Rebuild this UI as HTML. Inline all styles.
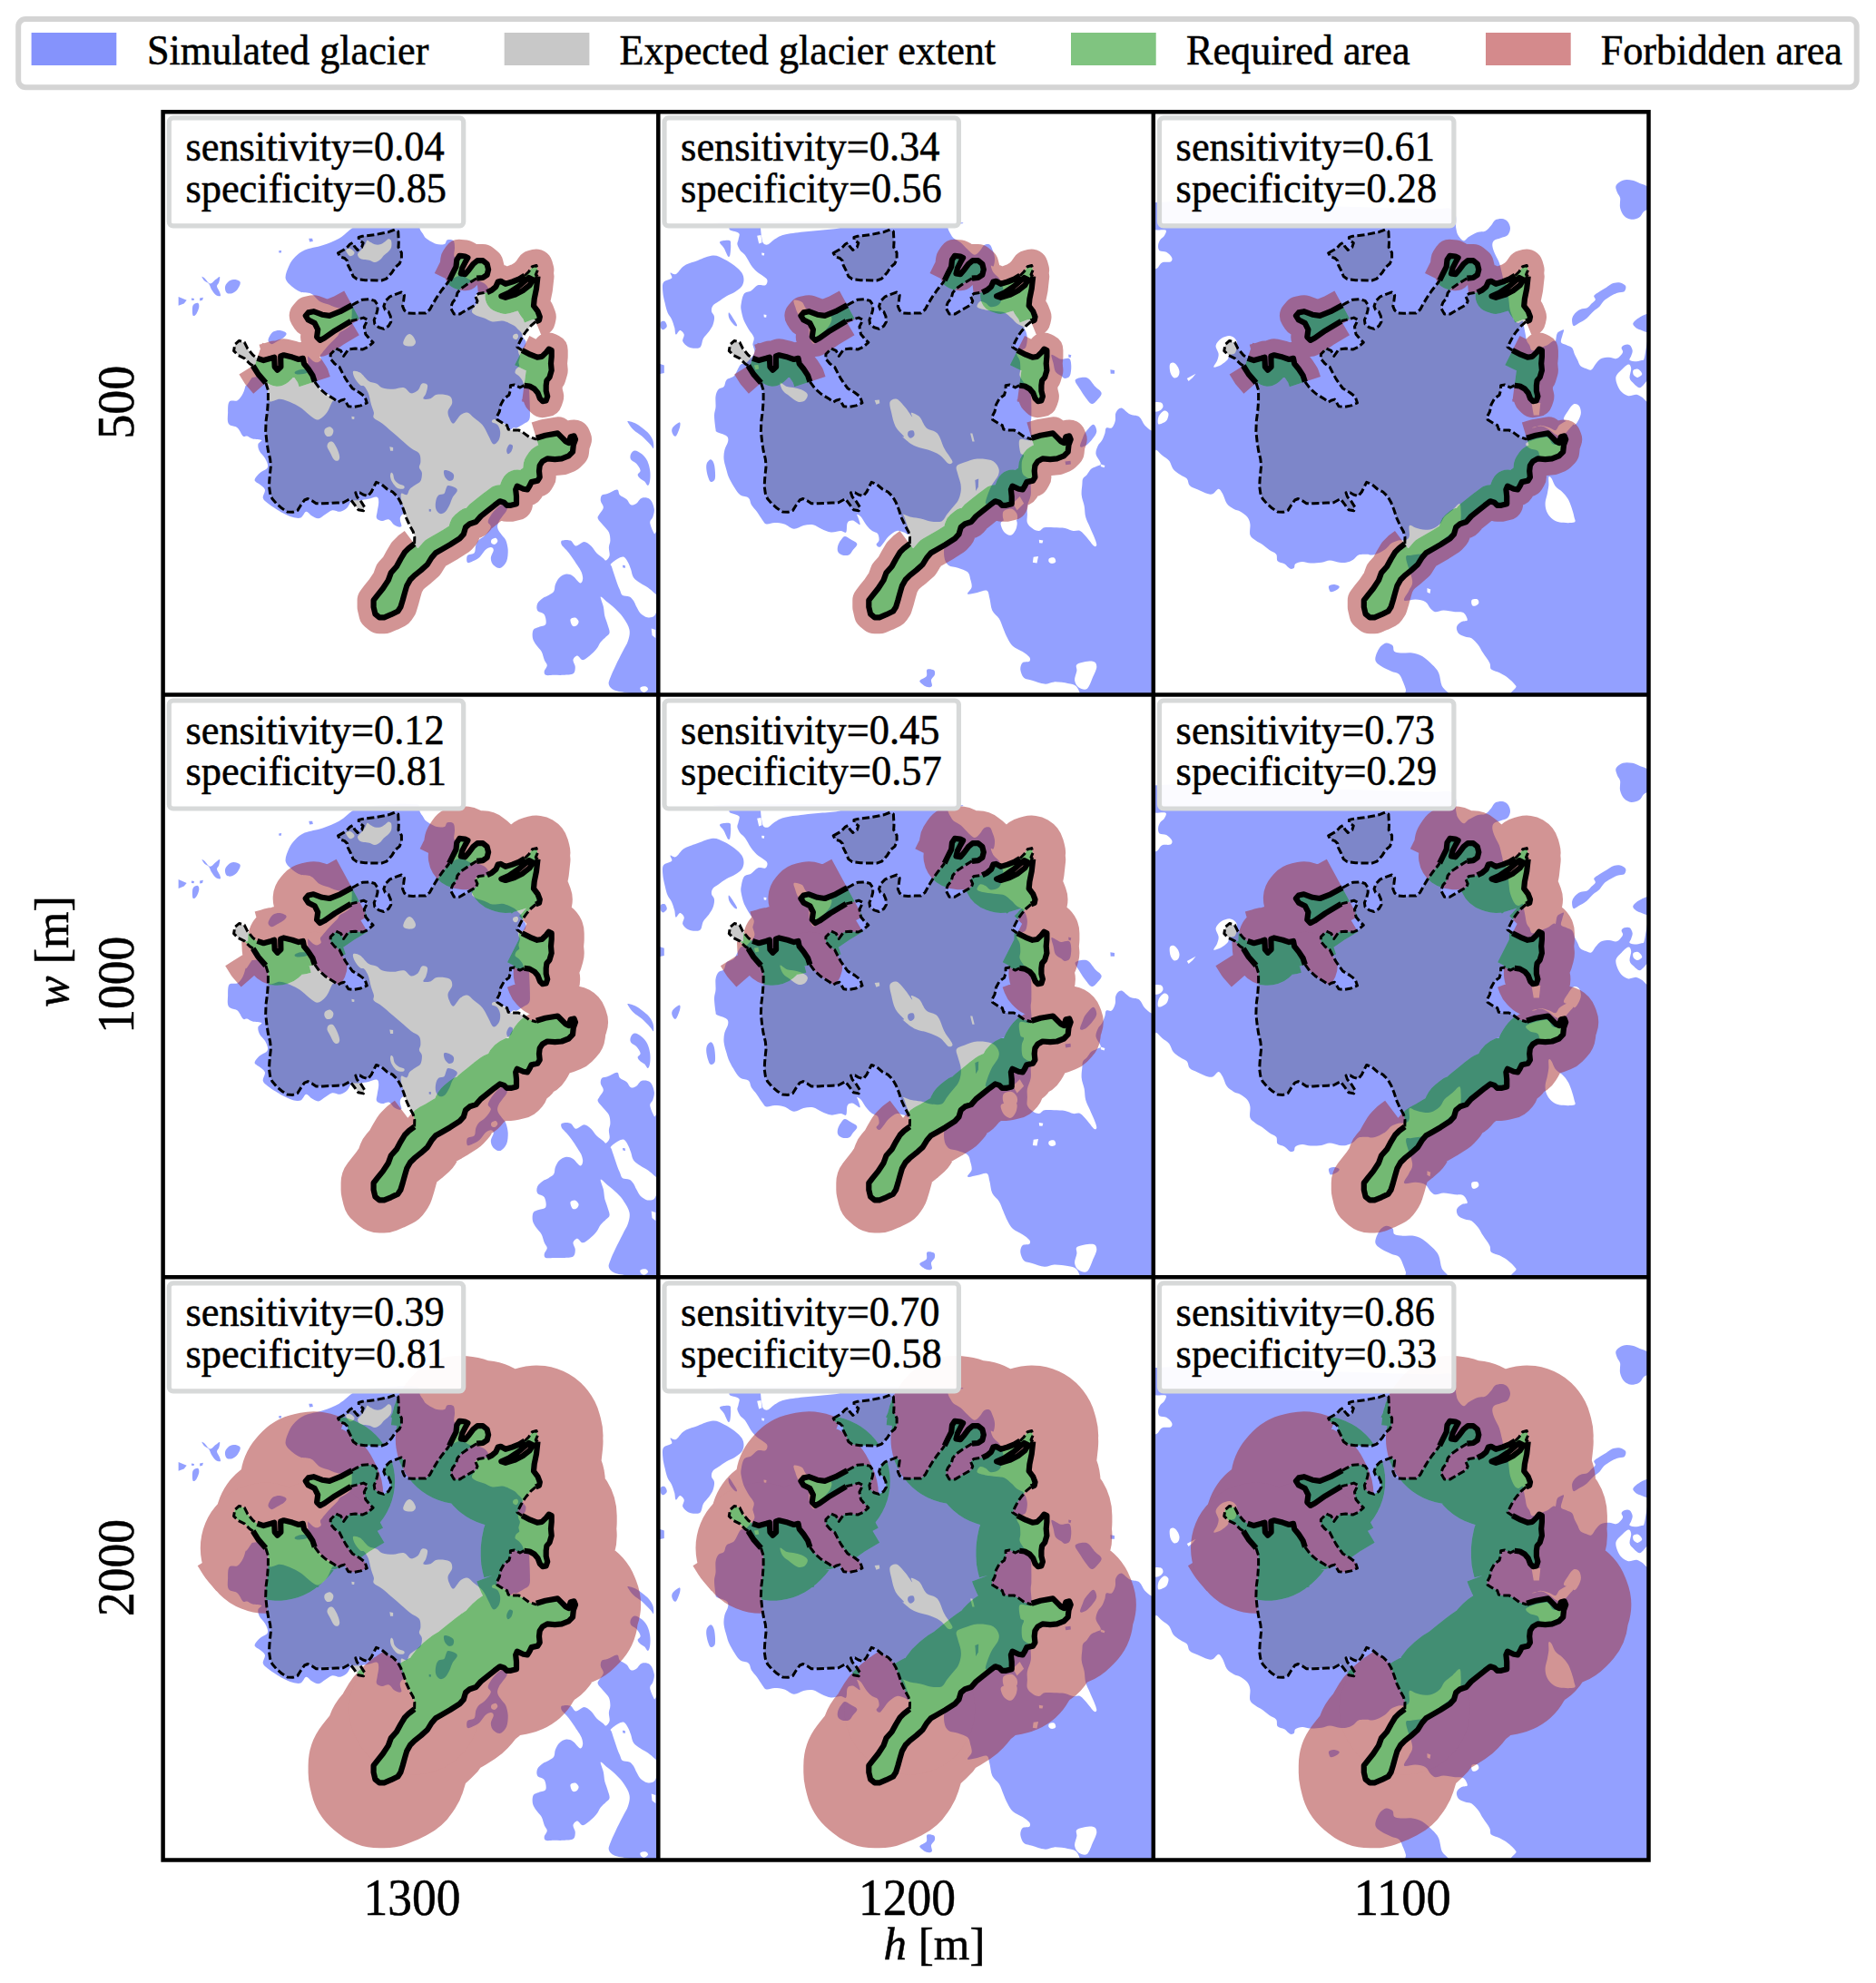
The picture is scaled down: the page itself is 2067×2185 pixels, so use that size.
<!DOCTYPE html>
<html><head><meta charset="utf-8"><title>figure</title>
<style>
html,body{margin:0;padding:0;background:#fff}
body{width:2067px;height:2185px;overflow:hidden;font-family:"Liberation Serif",serif}
svg{display:block}
text{font-family:"Liberation Serif",serif;fill:#000;stroke:#000;stroke-width:0.5px}
</style></head><body>
<svg xmlns="http://www.w3.org/2000/svg" width="2067" height="2185" viewBox="0 0 2067 2185">
<defs>
<path id="G" fill-rule="evenodd" clip-rule="evenodd" d="M113.2,298.5L105,289.1 99.1,279.7 95.6,277.4 89.7,271.5 82.7,268 78,263.3 79.2,256.3 83.9,252.1 89.7,253.9 93.2,260.9 99.1,268 103.8,271.5 110.8,273.8 119,271.5 122.6,270.3 123.1,280.9 126.1,284.4 129.8,280.9 129.6,269.2 133.1,268 142.5,270.3 149.5,272.7 154.2,271.5 155.4,277.4 160.1,283.2 164.8,290.3 167.1,297.3 172.5,304.7 179.3,310.7 189.1,316.8 192.9,319.8 195.9,317.9 199.7,316.8 204.3,324.4 210.3,325.1 217.9,323.6 224.7,320.6 222.4,313.8 216.4,309.2 208.8,304.7 204.3,298.6 201.2,294.1 197.5,287.3 194.4,281.2 189.1,277.5 184.6,272.2 184.6,266.9 190.7,260.8 195.9,263.1 199,269.1 204.3,261.6 211.8,260.8 220.2,261.6 225.4,259.3 231.5,254 227,249.5 223.2,244.9 221.7,236.6 225.4,229.1 220.9,226.8 212.6,229.1 207,230.5 189.4,241 177.7,249.2 173,251.6 169.5,248 170.6,239.8 167.1,232.8 160.1,229.3 157.1,224.6 160.1,221.1 165.9,219.9 175.3,223.4 183.5,224.6 195.3,219.9 208.2,212.9 212.9,210.3 219.7,206.9 227.3,206.5 233.3,208.1 236.4,212.6 236.4,217.9 234.9,223.9 232.6,229.2 233.3,233.8 237.9,237.5 243.2,239.1 248.5,236 251.1,231.5 250.7,225.4 248.5,220.2 244.7,217.9 243.2,214.1 245.4,208.1 250,203.5 257.5,200.5 262.8,198.6 265.9,202 265.1,208.1 264,214.1 265.9,218.6 269.6,221.7 275.7,222 282.5,221.7 289.3,221.7 293.9,217.9 297.6,211.1 302.2,203.5 307.5,195.9 313.5,188.4 315.4,185.7 319.1,178.1 322.9,170.6 323.7,163 326.7,158.5 332.8,159.2 335.8,160.7 332.8,166 329.7,172.1 328.2,178.1 332.8,178.9 337.3,173.6 341.8,167.5 346.4,163.8 352.4,163.8 357,167.5 358.5,173.6 357,179.6 352.4,182.7 345.6,183.4 335.8,189.5 328.2,194.8 324.4,199.3 322.9,205.4 319.1,209.9 316.9,215.9 320.7,222.8 326.7,222.8 335.8,217.5 344.9,212.2 346.4,208.4 344.1,203.1 347.9,200.1 353.9,199.3 357,198.9 362.3,196.3 366.8,192.5 369.1,187.2 372.1,186.5 377.4,189.5 384.9,187.2 392.5,184.2 398.6,180.4 403.1,175.9 406.9,170.4 411.4,169.2 412.8,174.3 410.7,179.3 412.9,181.2 411.4,194.8 409.1,206.1 408.4,213.7 412.9,219.7 415.2,225.8 414.4,229.6 410.7,231.1 405.4,235.6 400.2,241.7 396.4,247 393.3,253 390.3,259.1 395.6,262.8 404.7,267.4 412.3,270.4 417.5,269.6 422.1,265.1 425.1,261.3 428.1,262.8 428.1,269.6 427.4,277.2 428.1,284.8 425.9,292.3 422.8,296.1 422.1,301.4 422.1,307.5 423.6,313.5 422.1,318.1 418.3,318.8 415.3,315.8 413,309.7 409.2,305.2 403.9,302.2 397.9,301.4 393.3,303.7 387.3,300.7 382.8,301.4 382.8,306.7 381.2,312 375.9,315.8 372.2,322.6 370.7,330.2 367.6,336.2 368.4,339.2 374.4,343 379,345.3 380.5,349.8 384.3,350.6 391.8,350.6 397.1,353.6 403.2,358.1 410.7,360.4 411.3,359.4 421.2,356.4 434.8,354.1 439.3,358.6 443.9,363.2 446.9,364.7 449.1,357.9 452.9,357.1 454.4,360.9 452.2,367 451.4,374.5 446.9,379.1 439.3,382.1 431.8,382.8 423.4,382.1 418.1,385.1 415.1,389.6 414.4,395.7 415.1,402.5 412.8,406.3 406,407.8 403.8,412.3 401.5,416.1 397,415.4 390.2,412.3 388.6,416.1 389.4,423.7 389.4,432 383.3,433.5 378.8,433.5 375.8,430.5 371.2,429 365.2,433.5 357.6,439.6 350.1,445.6 344.8,451.7 338,453.9 333.4,457.7 331.2,465.3 326.9,470 316.3,476.8 307.2,482.1 300.4,485.9 295.9,491.2 291.3,498.7 284.5,504.8 277,510.8 272.4,515.4 268.6,522.2 266.4,529.7 264.1,538.1 261.8,545.6 258.8,550.2 251.2,553.9 243.7,557 238.4,557 233.8,553.2 232,545.6 232,538.1 236.1,532.8 242.2,525.2 248.2,516.1 251.2,507.8 257.3,501 261.8,492.7 266.4,485.1 270.9,480.6 277,476 277.2,468.6 275.7,462.6 271.9,455.8 268.1,447.5 265.1,438.4 262.1,430.8 258.3,424 253,418.7 247,415.7 240.9,410.4 234.9,408.1 233.3,411.2 229.6,418.7 225.8,423.3 220.5,421.7 216.7,419.5 212.2,419.5 213.7,424 218.2,429.3 222,435.4 220.9,439.5 215.2,438.4 210.7,432.3 206.1,426.3 198.6,430.4 191.7,430.8 176.3,431.5 168.7,431.5 164.2,428.5 159.6,426.2 155.9,427.7 152.1,433 148.3,439.1 143,441 137,440.6 130.9,436.8 124.9,431.5 120.3,426.2 118,420.2 116.9,412.6 117.3,405 118,397.5 118.8,389.9 118,382.3 115.8,373.3 114.3,363.4 113.1,352.1 113.5,340.7 115,329.4 115.8,318 115.8,306.7 113.2,298.5ZM403.1,182.7L392.5,191.7 381.2,199.3 372.8,203.1 377.4,204.6 387.2,201.6 396.3,197 403.9,191 407.6,184.9ZM192.9,155.5L201.6,150.6 206.1,145.7 209.1,144.1 211,148.3 214.4,152.1 219,149.1 220.5,144.5 215.9,141.1 215.6,138.1 219.7,137 233.3,135.4 248.5,132.4 255.3,129.8 259.1,131.7 259.7,143.8 259.4,149.1 262.8,155.1 262.8,161.9 260.6,167.2 256,171 252.3,177 246.2,183.8 240.9,185.7 222.8,185.4 213.7,184.2 209.5,181.2 206.9,174.8 203.8,168.7 203.1,164.2 200.1,161.2 195.1,159.6Z"/>
<path id="Ms" fill="none" stroke-linejoin="round" stroke-linecap="butt" d="M113.2,298.5L105,289.1 99.1,279.7M103.8,271.5L110.8,273.8 119,271.5 122.6,270.3 123.1,280.9 126.1,284.4 129.8,280.9 129.6,269.2 133.1,268 142.5,270.3 149.5,272.7 154.2,271.5 155.4,277.4 160.1,283.2 164.8,290.3 167.1,297.3M207,230.5L189.4,241 177.7,249.2 173,251.6 169.5,248 170.6,239.8 167.1,232.8 160.1,229.3 157.1,224.6 160.1,221.1 165.9,219.9 175.3,223.4 183.5,224.6 195.3,219.9 208.2,212.9M315.4,185.7L319.1,178.1 322.9,170.6 323.7,163 326.7,158.5 332.8,159.2 335.8,160.7 332.8,166 329.7,172.1 328.2,178.1 332.8,178.9 337.3,173.6 341.8,167.5 346.4,163.8 352.4,163.8 357,167.5 358.5,173.6 357,179.6 352.4,182.7 345.6,183.4M357,198.9L362.3,196.3 366.8,192.5 369.1,187.2 372.1,186.5 377.4,189.5 384.9,187.2 392.5,184.2 398.6,180.4 403.1,175.9 406.9,170.4 411.4,169.2 412.8,174.3 410.7,179.3 412.9,181.2 411.4,194.8 409.1,206.1 408.4,213.7 412.9,219.7 415.2,225.8 414.4,229.6 410.7,231.1M395.6,262.8L404.7,267.4 412.3,270.4 417.5,269.6 422.1,265.1 425.1,261.3 428.1,262.8 428.1,269.6 427.4,277.2 428.1,284.8 425.9,292.3 422.8,296.1 422.1,301.4 422.1,307.5 423.6,313.5 422.1,318.1 418.3,318.8 415.3,315.8 413,309.7 409.2,305.2 403.9,302.2 397.9,301.4M411.3,359.4L421.2,356.4 434.8,354.1 439.3,358.6 443.9,363.2 446.9,364.7 449.1,357.9 452.9,357.1 454.4,360.9 452.2,367 451.4,374.5 446.9,379.1 439.3,382.1 431.8,382.8 423.4,382.1 418.1,385.1 415.1,389.6 414.4,395.7 415.1,402.5 412.8,406.3 406,407.8 403.8,412.3 401.5,416.1 397,415.4 390.2,412.3 388.6,416.1 389.4,423.7 389.4,432 383.3,433.5 378.8,433.5 375.8,430.5 371.2,429 365.2,433.5 357.6,439.6 350.1,445.6 344.8,451.7 338,453.9 333.4,457.7 331.2,465.3 326.9,470 316.3,476.8 307.2,482.1 300.4,485.9 295.9,491.2 291.3,498.7 284.5,504.8 277,510.8 272.4,515.4 268.6,522.2 266.4,529.7 264.1,538.1 261.8,545.6 258.8,550.2 251.2,553.9 243.7,557 238.4,557 233.8,553.2 232,545.6 232,538.1 236.1,532.8 242.2,525.2 248.2,516.1 251.2,507.8 257.3,501 261.8,492.7 266.4,485.1 270.9,480.6 277,476M403.1,182.7L392.5,191.7 381.2,199.3 372.8,203.1 377.4,204.6 387.2,201.6 396.3,197 403.9,191 407.6,184.9Z"/>
<path id="Mv" fill="none" stroke-linecap="round" d=""/>
<path id="pr500" fill="none" stroke-linecap="round" d=""/>
<path id="pg500" fill="none" stroke-linecap="round" d=""/>
<path id="pr1000" fill="none" stroke-linecap="round" d="M167.1,297.3h0"/>
<path id="pg1000" fill="none" stroke-linecap="round" d=""/>
<path id="pr2000" fill="none" stroke-linecap="round" d="M113.2,298.5h0M167.1,297.3h0M277,476h0"/>
<path id="pg2000" fill="none" stroke-linecap="round" d="M183.5,224.6h0"/>
<path id="Ml" fill="none" stroke="#000" stroke-width="6.2" stroke-linejoin="round" d="M113.2,298.5L105,289.1 99.1,279.7M103.8,271.5L110.8,273.8 119,271.5 122.6,270.3 123.1,280.9 126.1,284.4 129.8,280.9 129.6,269.2 133.1,268 142.5,270.3 149.5,272.7 154.2,271.5 155.4,277.4 160.1,283.2 164.8,290.3 167.1,297.3M207,230.5L189.4,241 177.7,249.2 173,251.6 169.5,248 170.6,239.8 167.1,232.8 160.1,229.3 157.1,224.6 160.1,221.1 165.9,219.9 175.3,223.4 183.5,224.6 195.3,219.9 208.2,212.9M315.4,185.7L319.1,178.1 322.9,170.6 323.7,163 326.7,158.5 332.8,159.2 335.8,160.7 332.8,166 329.7,172.1 328.2,178.1 332.8,178.9 337.3,173.6 341.8,167.5 346.4,163.8 352.4,163.8 357,167.5 358.5,173.6 357,179.6 352.4,182.7 345.6,183.4M357,198.9L362.3,196.3 366.8,192.5 369.1,187.2 372.1,186.5 377.4,189.5 384.9,187.2 392.5,184.2 398.6,180.4M412.9,181.2L411.4,194.8 409.1,206.1 408.4,213.7 412.9,219.7 415.2,225.8 414.4,229.6 410.7,231.1M395.6,262.8L404.7,267.4 412.3,270.4 417.5,269.6 422.1,265.1 425.1,261.3 428.1,262.8 428.1,269.6 427.4,277.2 428.1,284.8 425.9,292.3 422.8,296.1 422.1,301.4 422.1,307.5 423.6,313.5 422.1,318.1 418.3,318.8 415.3,315.8 413,309.7 409.2,305.2 403.9,302.2 397.9,301.4M411.3,359.4L421.2,356.4 434.8,354.1 439.3,358.6 443.9,363.2 446.9,364.7 449.1,357.9 452.9,357.1 454.4,360.9 452.2,367 451.4,374.5 446.9,379.1 439.3,382.1 431.8,382.8 423.4,382.1 418.1,385.1 415.1,389.6 414.4,395.7 415.1,402.5 412.8,406.3 406,407.8 403.8,412.3 401.5,416.1 397,415.4 390.2,412.3 388.6,416.1 389.4,423.7 389.4,432 383.3,433.5 378.8,433.5 375.8,430.5 371.2,429 365.2,433.5 357.6,439.6 350.1,445.6 344.8,451.7 338,453.9 333.4,457.7 331.2,465.3 326.9,470 316.3,476.8 307.2,482.1 300.4,485.9 295.9,491.2 291.3,498.7 284.5,504.8 277,510.8 272.4,515.4 268.6,522.2 266.4,529.7 264.1,538.1 261.8,545.6 258.8,550.2 251.2,553.9 243.7,557 238.4,557 233.8,553.2 232,545.6 232,538.1 236.1,532.8 242.2,525.2 248.2,516.1 251.2,507.8 257.3,501 261.8,492.7 266.4,485.1 270.9,480.6 277,476M403.1,182.7L392.5,191.7 381.2,199.3 372.8,203.1 377.4,204.6 387.2,201.6 396.3,197 403.9,191 407.6,184.9Z"/>
<path id="Md" fill="none" stroke="#000" stroke-width="3" stroke-dasharray="8.2 3.4" stroke-linejoin="round" d="M99.1,279.7L95.6,277.4 89.7,271.5 82.7,268 78,263.3 79.2,256.3 83.9,252.1 89.7,253.9 93.2,260.9 99.1,268 103.8,271.5M167.1,297.3L172.5,304.7 179.3,310.7 189.1,316.8 192.9,319.8 195.9,317.9 199.7,316.8 204.3,324.4 210.3,325.1 217.9,323.6 224.7,320.6 222.4,313.8 216.4,309.2 208.8,304.7 204.3,298.6 201.2,294.1 197.5,287.3 194.4,281.2 189.1,277.5 184.6,272.2 184.6,266.9 190.7,260.8 195.9,263.1 199,269.1 204.3,261.6 211.8,260.8 220.2,261.6 225.4,259.3 231.5,254 227,249.5 223.2,244.9 221.7,236.6 225.4,229.1 220.9,226.8 212.6,229.1 207,230.5M208.2,212.9L212.9,210.3 219.7,206.9 227.3,206.5 233.3,208.1 236.4,212.6 236.4,217.9 234.9,223.9 232.6,229.2 233.3,233.8 237.9,237.5 243.2,239.1 248.5,236 251.1,231.5 250.7,225.4 248.5,220.2 244.7,217.9 243.2,214.1 245.4,208.1 250,203.5 257.5,200.5 262.8,198.6 265.9,202 265.1,208.1 264,214.1 265.9,218.6 269.6,221.7 275.7,222 282.5,221.7 289.3,221.7 293.9,217.9 297.6,211.1 302.2,203.5 307.5,195.9 313.5,188.4 315.4,185.7M345.6,183.4L335.8,189.5 328.2,194.8 324.4,199.3 322.9,205.4 319.1,209.9 316.9,215.9 320.7,222.8 326.7,222.8 335.8,217.5 344.9,212.2 346.4,208.4 344.1,203.1 347.9,200.1 353.9,199.3 357,198.9M398.6,180.4L403.1,175.9 406.9,170.4 411.4,169.2 412.8,174.3 410.7,179.3 412.9,181.2M410.7,231.1L405.4,235.6 400.2,241.7 396.4,247 393.3,253 390.3,259.1 395.6,262.8M397.9,301.4L393.3,303.7 387.3,300.7 382.8,301.4 382.8,306.7 381.2,312 375.9,315.8 372.2,322.6 370.7,330.2 367.6,336.2 368.4,339.2 374.4,343 379,345.3 380.5,349.8 384.3,350.6 391.8,350.6 397.1,353.6 403.2,358.1 410.7,360.4 411.3,359.4M277,476L277.2,468.6 275.7,462.6 271.9,455.8 268.1,447.5 265.1,438.4 262.1,430.8 258.3,424 253,418.7 247,415.7 240.9,410.4 234.9,408.1 233.3,411.2 229.6,418.7 225.8,423.3 220.5,421.7 216.7,419.5 212.2,419.5 213.7,424 218.2,429.3 222,435.4 220.9,439.5 215.2,438.4 210.7,432.3 206.1,426.3 198.6,430.4 191.7,430.8 176.3,431.5 168.7,431.5 164.2,428.5 159.6,426.2 155.9,427.7 152.1,433 148.3,439.1 143,441 137,440.6 130.9,436.8 124.9,431.5 120.3,426.2 118,420.2 116.9,412.6 117.3,405 118,397.5 118.8,389.9 118,382.3 115.8,373.3 114.3,363.4 113.1,352.1 113.5,340.7 115,329.4 115.8,318 115.8,306.7 113.2,298.5M192.9,155.5L201.6,150.6 206.1,145.7 209.1,144.1 211,148.3 214.4,152.1 219,149.1 220.5,144.5 215.9,141.1 215.6,138.1 219.7,137 233.3,135.4 248.5,132.4 255.3,129.8 259.1,131.7 259.7,143.8 259.4,149.1 262.8,155.1 262.8,161.9 260.6,167.2 256,171 252.3,177 246.2,183.8 240.9,185.7 222.8,185.4 213.7,184.2 209.5,181.2 206.9,174.8 203.8,168.7 203.1,164.2 200.1,161.2 195.1,159.6Z"/>
<clipPath id="cin"><path clip-rule="evenodd" d="M113.2,298.5L105,289.1 99.1,279.7 95.6,277.4 89.7,271.5 82.7,268 78,263.3 79.2,256.3 83.9,252.1 89.7,253.9 93.2,260.9 99.1,268 103.8,271.5 110.8,273.8 119,271.5 122.6,270.3 123.1,280.9 126.1,284.4 129.8,280.9 129.6,269.2 133.1,268 142.5,270.3 149.5,272.7 154.2,271.5 155.4,277.4 160.1,283.2 164.8,290.3 167.1,297.3 172.5,304.7 179.3,310.7 189.1,316.8 192.9,319.8 195.9,317.9 199.7,316.8 204.3,324.4 210.3,325.1 217.9,323.6 224.7,320.6 222.4,313.8 216.4,309.2 208.8,304.7 204.3,298.6 201.2,294.1 197.5,287.3 194.4,281.2 189.1,277.5 184.6,272.2 184.6,266.9 190.7,260.8 195.9,263.1 199,269.1 204.3,261.6 211.8,260.8 220.2,261.6 225.4,259.3 231.5,254 227,249.5 223.2,244.9 221.7,236.6 225.4,229.1 220.9,226.8 212.6,229.1 207,230.5 189.4,241 177.7,249.2 173,251.6 169.5,248 170.6,239.8 167.1,232.8 160.1,229.3 157.1,224.6 160.1,221.1 165.9,219.9 175.3,223.4 183.5,224.6 195.3,219.9 208.2,212.9 212.9,210.3 219.7,206.9 227.3,206.5 233.3,208.1 236.4,212.6 236.4,217.9 234.9,223.9 232.6,229.2 233.3,233.8 237.9,237.5 243.2,239.1 248.5,236 251.1,231.5 250.7,225.4 248.5,220.2 244.7,217.9 243.2,214.1 245.4,208.1 250,203.5 257.5,200.5 262.8,198.6 265.9,202 265.1,208.1 264,214.1 265.9,218.6 269.6,221.7 275.7,222 282.5,221.7 289.3,221.7 293.9,217.9 297.6,211.1 302.2,203.5 307.5,195.9 313.5,188.4 315.4,185.7 319.1,178.1 322.9,170.6 323.7,163 326.7,158.5 332.8,159.2 335.8,160.7 332.8,166 329.7,172.1 328.2,178.1 332.8,178.9 337.3,173.6 341.8,167.5 346.4,163.8 352.4,163.8 357,167.5 358.5,173.6 357,179.6 352.4,182.7 345.6,183.4 335.8,189.5 328.2,194.8 324.4,199.3 322.9,205.4 319.1,209.9 316.9,215.9 320.7,222.8 326.7,222.8 335.8,217.5 344.9,212.2 346.4,208.4 344.1,203.1 347.9,200.1 353.9,199.3 357,198.9 362.3,196.3 366.8,192.5 369.1,187.2 372.1,186.5 377.4,189.5 384.9,187.2 392.5,184.2 398.6,180.4 403.1,175.9 406.9,170.4 411.4,169.2 412.8,174.3 410.7,179.3 412.9,181.2 411.4,194.8 409.1,206.1 408.4,213.7 412.9,219.7 415.2,225.8 414.4,229.6 410.7,231.1 405.4,235.6 400.2,241.7 396.4,247 393.3,253 390.3,259.1 395.6,262.8 404.7,267.4 412.3,270.4 417.5,269.6 422.1,265.1 425.1,261.3 428.1,262.8 428.1,269.6 427.4,277.2 428.1,284.8 425.9,292.3 422.8,296.1 422.1,301.4 422.1,307.5 423.6,313.5 422.1,318.1 418.3,318.8 415.3,315.8 413,309.7 409.2,305.2 403.9,302.2 397.9,301.4 393.3,303.7 387.3,300.7 382.8,301.4 382.8,306.7 381.2,312 375.9,315.8 372.2,322.6 370.7,330.2 367.6,336.2 368.4,339.2 374.4,343 379,345.3 380.5,349.8 384.3,350.6 391.8,350.6 397.1,353.6 403.2,358.1 410.7,360.4 411.3,359.4 421.2,356.4 434.8,354.1 439.3,358.6 443.9,363.2 446.9,364.7 449.1,357.9 452.9,357.1 454.4,360.9 452.2,367 451.4,374.5 446.9,379.1 439.3,382.1 431.8,382.8 423.4,382.1 418.1,385.1 415.1,389.6 414.4,395.7 415.1,402.5 412.8,406.3 406,407.8 403.8,412.3 401.5,416.1 397,415.4 390.2,412.3 388.6,416.1 389.4,423.7 389.4,432 383.3,433.5 378.8,433.5 375.8,430.5 371.2,429 365.2,433.5 357.6,439.6 350.1,445.6 344.8,451.7 338,453.9 333.4,457.7 331.2,465.3 326.9,470 316.3,476.8 307.2,482.1 300.4,485.9 295.9,491.2 291.3,498.7 284.5,504.8 277,510.8 272.4,515.4 268.6,522.2 266.4,529.7 264.1,538.1 261.8,545.6 258.8,550.2 251.2,553.9 243.7,557 238.4,557 233.8,553.2 232,545.6 232,538.1 236.1,532.8 242.2,525.2 248.2,516.1 251.2,507.8 257.3,501 261.8,492.7 266.4,485.1 270.9,480.6 277,476 277.2,468.6 275.7,462.6 271.9,455.8 268.1,447.5 265.1,438.4 262.1,430.8 258.3,424 253,418.7 247,415.7 240.9,410.4 234.9,408.1 233.3,411.2 229.6,418.7 225.8,423.3 220.5,421.7 216.7,419.5 212.2,419.5 213.7,424 218.2,429.3 222,435.4 220.9,439.5 215.2,438.4 210.7,432.3 206.1,426.3 198.6,430.4 191.7,430.8 176.3,431.5 168.7,431.5 164.2,428.5 159.6,426.2 155.9,427.7 152.1,433 148.3,439.1 143,441 137,440.6 130.9,436.8 124.9,431.5 120.3,426.2 118,420.2 116.9,412.6 117.3,405 118,397.5 118.8,389.9 118,382.3 115.8,373.3 114.3,363.4 113.1,352.1 113.5,340.7 115,329.4 115.8,318 115.8,306.7 113.2,298.5ZM403.1,182.7L392.5,191.7 381.2,199.3 372.8,203.1 377.4,204.6 387.2,201.6 396.3,197 403.9,191 407.6,184.9ZM192.9,155.5L201.6,150.6 206.1,145.7 209.1,144.1 211,148.3 214.4,152.1 219,149.1 220.5,144.5 215.9,141.1 215.6,138.1 219.7,137 233.3,135.4 248.5,132.4 255.3,129.8 259.1,131.7 259.7,143.8 259.4,149.1 262.8,155.1 262.8,161.9 260.6,167.2 256,171 252.3,177 246.2,183.8 240.9,185.7 222.8,185.4 213.7,184.2 209.5,181.2 206.9,174.8 203.8,168.7 203.1,164.2 200.1,161.2 195.1,159.6Z"/></clipPath>
<clipPath id="cout"><path clip-rule="evenodd" d="M-5,-5H550.6V647H-5ZM113.2,298.5L105,289.1 99.1,279.7 95.6,277.4 89.7,271.5 82.7,268 78,263.3 79.2,256.3 83.9,252.1 89.7,253.9 93.2,260.9 99.1,268 103.8,271.5 110.8,273.8 119,271.5 122.6,270.3 123.1,280.9 126.1,284.4 129.8,280.9 129.6,269.2 133.1,268 142.5,270.3 149.5,272.7 154.2,271.5 155.4,277.4 160.1,283.2 164.8,290.3 167.1,297.3 172.5,304.7 179.3,310.7 189.1,316.8 192.9,319.8 195.9,317.9 199.7,316.8 204.3,324.4 210.3,325.1 217.9,323.6 224.7,320.6 222.4,313.8 216.4,309.2 208.8,304.7 204.3,298.6 201.2,294.1 197.5,287.3 194.4,281.2 189.1,277.5 184.6,272.2 184.6,266.9 190.7,260.8 195.9,263.1 199,269.1 204.3,261.6 211.8,260.8 220.2,261.6 225.4,259.3 231.5,254 227,249.5 223.2,244.9 221.7,236.6 225.4,229.1 220.9,226.8 212.6,229.1 207,230.5 189.4,241 177.7,249.2 173,251.6 169.5,248 170.6,239.8 167.1,232.8 160.1,229.3 157.1,224.6 160.1,221.1 165.9,219.9 175.3,223.4 183.5,224.6 195.3,219.9 208.2,212.9 212.9,210.3 219.7,206.9 227.3,206.5 233.3,208.1 236.4,212.6 236.4,217.9 234.9,223.9 232.6,229.2 233.3,233.8 237.9,237.5 243.2,239.1 248.5,236 251.1,231.5 250.7,225.4 248.5,220.2 244.7,217.9 243.2,214.1 245.4,208.1 250,203.5 257.5,200.5 262.8,198.6 265.9,202 265.1,208.1 264,214.1 265.9,218.6 269.6,221.7 275.7,222 282.5,221.7 289.3,221.7 293.9,217.9 297.6,211.1 302.2,203.5 307.5,195.9 313.5,188.4 315.4,185.7 319.1,178.1 322.9,170.6 323.7,163 326.7,158.5 332.8,159.2 335.8,160.7 332.8,166 329.7,172.1 328.2,178.1 332.8,178.9 337.3,173.6 341.8,167.5 346.4,163.8 352.4,163.8 357,167.5 358.5,173.6 357,179.6 352.4,182.7 345.6,183.4 335.8,189.5 328.2,194.8 324.4,199.3 322.9,205.4 319.1,209.9 316.9,215.9 320.7,222.8 326.7,222.8 335.8,217.5 344.9,212.2 346.4,208.4 344.1,203.1 347.9,200.1 353.9,199.3 357,198.9 362.3,196.3 366.8,192.5 369.1,187.2 372.1,186.5 377.4,189.5 384.9,187.2 392.5,184.2 398.6,180.4 403.1,175.9 406.9,170.4 411.4,169.2 412.8,174.3 410.7,179.3 412.9,181.2 411.4,194.8 409.1,206.1 408.4,213.7 412.9,219.7 415.2,225.8 414.4,229.6 410.7,231.1 405.4,235.6 400.2,241.7 396.4,247 393.3,253 390.3,259.1 395.6,262.8 404.7,267.4 412.3,270.4 417.5,269.6 422.1,265.1 425.1,261.3 428.1,262.8 428.1,269.6 427.4,277.2 428.1,284.8 425.9,292.3 422.8,296.1 422.1,301.4 422.1,307.5 423.6,313.5 422.1,318.1 418.3,318.8 415.3,315.8 413,309.7 409.2,305.2 403.9,302.2 397.9,301.4 393.3,303.7 387.3,300.7 382.8,301.4 382.8,306.7 381.2,312 375.9,315.8 372.2,322.6 370.7,330.2 367.6,336.2 368.4,339.2 374.4,343 379,345.3 380.5,349.8 384.3,350.6 391.8,350.6 397.1,353.6 403.2,358.1 410.7,360.4 411.3,359.4 421.2,356.4 434.8,354.1 439.3,358.6 443.9,363.2 446.9,364.7 449.1,357.9 452.9,357.1 454.4,360.9 452.2,367 451.4,374.5 446.9,379.1 439.3,382.1 431.8,382.8 423.4,382.1 418.1,385.1 415.1,389.6 414.4,395.7 415.1,402.5 412.8,406.3 406,407.8 403.8,412.3 401.5,416.1 397,415.4 390.2,412.3 388.6,416.1 389.4,423.7 389.4,432 383.3,433.5 378.8,433.5 375.8,430.5 371.2,429 365.2,433.5 357.6,439.6 350.1,445.6 344.8,451.7 338,453.9 333.4,457.7 331.2,465.3 326.9,470 316.3,476.8 307.2,482.1 300.4,485.9 295.9,491.2 291.3,498.7 284.5,504.8 277,510.8 272.4,515.4 268.6,522.2 266.4,529.7 264.1,538.1 261.8,545.6 258.8,550.2 251.2,553.9 243.7,557 238.4,557 233.8,553.2 232,545.6 232,538.1 236.1,532.8 242.2,525.2 248.2,516.1 251.2,507.8 257.3,501 261.8,492.7 266.4,485.1 270.9,480.6 277,476 277.2,468.6 275.7,462.6 271.9,455.8 268.1,447.5 265.1,438.4 262.1,430.8 258.3,424 253,418.7 247,415.7 240.9,410.4 234.9,408.1 233.3,411.2 229.6,418.7 225.8,423.3 220.5,421.7 216.7,419.5 212.2,419.5 213.7,424 218.2,429.3 222,435.4 220.9,439.5 215.2,438.4 210.7,432.3 206.1,426.3 198.6,430.4 191.7,430.8 176.3,431.5 168.7,431.5 164.2,428.5 159.6,426.2 155.9,427.7 152.1,433 148.3,439.1 143,441 137,440.6 130.9,436.8 124.9,431.5 120.3,426.2 118,420.2 116.9,412.6 117.3,405 118,397.5 118.8,389.9 118,382.3 115.8,373.3 114.3,363.4 113.1,352.1 113.5,340.7 115,329.4 115.8,318 115.8,306.7 113.2,298.5ZM403.1,182.7L392.5,191.7 381.2,199.3 372.8,203.1 377.4,204.6 387.2,201.6 396.3,197 403.9,191 407.6,184.9ZM192.9,155.5L201.6,150.6 206.1,145.7 209.1,144.1 211,148.3 214.4,152.1 219,149.1 220.5,144.5 215.9,141.1 215.6,138.1 219.7,137 233.3,135.4 248.5,132.4 255.3,129.8 259.1,131.7 259.7,143.8 259.4,149.1 262.8,155.1 262.8,161.9 260.6,167.2 256,171 252.3,177 246.2,183.8 240.9,185.7 222.8,185.4 213.7,184.2 209.5,181.2 206.9,174.8 203.8,168.7 203.1,164.2 200.1,161.2 195.1,159.6Z"/></clipPath>
<clipPath id="cp"><rect x="0" y="0" width="545.6" height="642"/></clipPath>
<mask id="b0" maskUnits="userSpaceOnUse" x="-5" y="-5" width="555.6" height="652">
<path fill="#fff" d="M227.3,122.8C219.7,123.6 217.7,123 212.2,125.8C206.6,128.5 200.1,135.9 194,139.4C188,142.9 182.2,144.8 175.9,147C169.6,149.1 161.2,150.1 156.2,152.2C151.2,154.4 148.5,156.9 145.6,159.8C142.7,162.7 140.6,165.7 138.8,169.6C137,173.6 134.5,179.5 135,183.3C135.5,187 139.1,189.8 141.8,192.3C144.6,194.9 148.1,196.9 151.7,198.4C155.2,199.8 163,198.2 163,201C163,203.7 153.6,208.9 151.7,215C149.8,221.2 154.2,230.2 151.7,237.7C149.1,245.3 144.1,252.8 136.5,260.4C129,268 113.6,276.4 106.3,283.1C99,289.8 95.2,297.5 92.7,300.5C90.2,303.5 91.9,299.6 91.2,301.2C90.4,302.9 89.6,307.5 88.1,310.3C86.6,313.1 84.6,316.4 82.1,317.9C79.6,319.4 74.8,317.1 73,319.4C71.2,321.7 71.6,327.5 71.5,331.5C71.4,335.5 70.5,340.8 72.3,343.6C74,346.4 79.4,345.9 82.1,348.1C84.7,350.4 86.4,355.7 88.1,357.2C89.9,358.7 90.9,356.7 92.7,357.2C94.4,357.7 96.1,359.5 98.7,360.2C101.4,361 107.5,360.7 108.6,361.7C109.6,362.8 105.2,364.3 104.8,366.3C104.4,368.3 105,371.3 106.3,373.8C107.5,376.4 110.8,378.9 112.3,381.4C113.9,383.9 115.1,387 115.4,389C115.6,391 115.4,392 113.9,393.5C112.3,395 108.4,396 106.3,398.1C104.1,400.1 101,403.6 101,405.6C101,407.6 104.4,408.4 106.3,410.2C108.2,411.9 111.7,413.7 112.3,416.2C113,418.7 109.6,422.8 110.1,425.3C110.6,427.8 113,429.3 115.4,431.3C117.8,433.3 121.7,435.6 124.4,437.4C127.2,439.1 129,440.4 132,441.9C135,443.4 139.3,445.6 142.6,446.5C145.9,447.3 149.1,448.2 151.7,447.2C154.2,446.2 155.7,440.8 157.7,440.4C159.7,440 161.5,443.7 163.8,444.9C166,446.2 168.8,448.2 171.3,448C173.9,447.7 176.4,444.9 178.9,443.4C181.4,441.9 183.7,439.4 186.5,438.9C189.2,438.4 192.8,440.9 195.5,440.4C198.3,439.9 201.1,437.9 203.1,435.9C205.1,433.9 206.3,429.6 207.6,428.3C209,427 209.6,428 211.2,428C212.8,427.9 214.7,428.2 217.2,428C219.7,427.7 223.3,427.1 226.3,426.5C229.3,425.8 233.5,423.7 235.4,424.2C237.3,424.7 237.5,426.8 237.6,429.5C237.8,432.1 236.5,437 236.1,440.1C235.7,443.1 234.5,445.9 235.4,447.6C236.2,449.4 239.1,450.4 241.4,450.7C243.7,450.9 246.7,448.4 249,449.1C251.2,449.9 252.8,453.9 255,455.2C257.3,456.5 261.1,458.7 262.6,456.7C264.1,454.7 257.6,447.9 264.1,443.1C270.7,438.3 285.5,438.1 301.9,428C318.3,417.9 349,395.4 362.4,382.6C375.8,369.8 377.8,356.9 382.3,351.2C386.9,345.4 387.4,349.4 389.9,348.1C392.4,346.9 395.2,345.1 397.5,343.6C399.7,342.1 402.4,341.6 403.5,339.1C404.7,336.5 404.3,334.3 404.3,328.5C404.3,322.7 403.5,308.5 403.5,304.3C403.5,300 405.2,303.4 404.3,302.9C403.4,302.4 399.2,302 398,301.4C396.8,300.8 397.5,300.2 397.1,299.1C396.7,298.1 396.5,296.7 395.6,295.4C394.7,294 393.1,292.1 391.8,290.8C390.6,289.6 388.5,289.1 388,287.8C387.6,286.5 388.4,284.5 389.2,283.3C389.9,282 392.1,281.5 392.6,280.2C393,279 391.7,277.5 391.8,275.7C392,273.9 393.3,271.3 393.3,269.6C393.3,268 392.2,267.4 391.8,265.9C391.5,264.3 390.8,261.3 391.1,260.6C391.3,259.8 392.1,261.6 393.3,261.3C394.6,261.1 397.6,260.4 398.6,259.1C399.7,257.7 400,254.6 399.8,253C399.5,251.4 397.7,250.1 397.1,249.2C396.5,248.3 396.7,248.7 396.3,247.7C395.9,246.7 395.5,244.4 394.8,243.2C394,241.9 393,241.4 391.8,240.2C390.5,238.9 389,236.9 387.2,235.6C385.4,234.4 383.4,233.5 381.2,232.6C378.9,231.7 376.6,230.6 373.6,230.3C370.6,230.1 366.3,231.6 363,231.1C359.7,230.6 357,228.4 353.9,227.3C350.9,226.2 347.1,225.5 344.9,224.3C342.6,223 340.3,221.7 340.3,219.7C340.3,217.7 343.8,214.1 344.9,212.2C345.9,210.3 346.5,209.9 346.4,208.4C346.2,206.9 343.8,204.5 344.1,203.1C344.4,201.7 346.2,200.7 347.9,200.1C349.5,199.4 352.4,199.5 353.9,199.3C355.4,199.1 356.2,199.7 357,198.9C357.7,198.2 358.8,196.3 358.5,194.8C358.1,193.2 356.5,190.9 354.7,189.5C352.9,188.1 350,187.1 347.9,186.5C345.7,185.8 343.7,186.1 341.8,185.7C339.9,185.3 338.6,185.2 336.5,184.2C334.5,183.2 331.7,180.1 329.7,179.6C327.7,179.1 326.6,180.4 324.4,181.2C322.3,181.9 317.8,184.7 316.9,184.2C316,183.7 318.1,180.4 319.1,178.1C320.1,175.9 322.2,173.1 322.9,170.6C323.6,168 323.7,165 323.3,163C322.9,161 321,160.7 320.7,158.5C320.3,156.2 321.5,152.2 321.4,149.4C321.3,146.6 321.3,143.2 319.9,141.8C318.5,140.4 314.7,140.4 313.1,141.1C311.5,141.7 312.1,144.9 310.1,145.6C308,146.3 304,146.4 300.7,145.4C297.4,144.3 292.5,141.3 290.1,139.4C287.7,137.5 287.4,135.7 286.3,134.1C285.1,132.5 283.9,131.1 283.3,129.6C282.6,128 282.9,126.4 282.5,125C282.1,123.6 283,122 281,121.2C279,120.5 274.3,120.6 270.4,120.5C266.5,120.4 264.7,120.1 257.6,120.5C250.4,120.9 234.9,121.9 227.3,122.8Z"/>
<path fill="#000" d="M162.7,200.3C166.1,201.1 169.1,206.6 172.5,208.6C175.9,210.7 180.1,211.3 183.1,212.4C186.1,213.6 188.1,214.8 190.7,215.4C193.2,216.1 195.4,216.6 198.2,216.2C201,215.8 205.8,210.5 207.3,213.2C208.8,215.8 208,227.9 207.3,232.1C206.5,236.2 204.8,236.4 202.8,238.1C200.7,239.9 197,241.2 195.2,242.7C193.4,244.2 193.9,245.2 192.2,247.2C190.4,249.2 187.4,251.7 184.6,254.8C181.8,257.8 177.4,263 175.5,265.4C173.6,267.7 173.5,267.4 173.3,268.8C173,270.2 174.9,272.5 174,273.7C173.1,274.9 170.2,276.6 168,275.9C165.7,275.3 161.8,271 160.4,269.9C159,268.8 159.5,267.5 159.5,269.5C159.6,271.4 159.5,277.8 160.7,281.6C162,285.4 165.5,289.4 166.8,292.2C168.1,294.9 167.1,295.4 168.6,297.9C170.1,300.4 172.4,304.2 175.9,307.3C179.4,310.4 187.7,314.4 189.5,316.4C191.3,318.4 188,316.9 186.5,319.4C184.9,321.9 182.9,328.2 180.4,331.5C177.9,334.8 174.1,338.3 171.3,339.1C168.6,339.8 166.8,338.1 163.8,336C160.7,334 156.7,329.5 153.2,327C149.7,324.4 146.6,322.7 142.6,320.9C138.6,319.1 133.3,316.8 129,316.4C124.7,316 119.1,320.8 116.9,318.6C114.6,316.5 116.6,307.3 115.4,303.5C114.1,299.7 111,297.8 109.3,296C107.7,294.1 108.6,293.1 105.5,292.2C102.5,291.3 96.1,294.7 91.2,290.7C86.2,286.6 76,276.8 76,268C76,259.1 82.3,247.8 91.2,237.7C100,227.6 118.9,213.1 129,207.5C139.1,201.8 146.1,204.9 151.7,203.7C157.3,202.5 159.2,199.5 162.7,200.3Z"/>
<path fill="#000" d="M209.6,285.8C210.7,284.8 214.4,285.5 217.2,287.3C220,289.1 223.3,294.3 226.3,296.4C229.3,298.4 232.8,298.1 235.4,299.4C237.9,300.7 238.4,302.9 241.4,303.9C244.4,304.9 249.5,305.4 253.5,305.4C257.6,305.4 262.3,303.2 265.6,303.9C268.9,304.7 270.7,309.5 273.2,310C275.7,310.5 278.7,308.7 280.7,307C282.8,305.2 283.5,300.4 285.3,299.4C287,298.4 290.6,299.1 291.3,300.9C292.1,302.7 290.6,307.5 289.8,310C289.1,312.5 286,315 286.8,316C287.6,317 291.8,316.8 294.4,316C296.9,315.3 298.4,312 301.9,311.5C305.5,311 312.8,311.5 315.5,313C318.3,314.5 318.8,317.8 318.6,320.6C318.3,323.3 314.5,326.9 314,329.6C313.5,332.4 314.5,334.9 315.5,337.2C316.5,339.5 318.1,343.8 320.1,343.3C322.1,342.8 325.1,336.2 327.6,334.2C330.2,332.2 332.7,330.7 335.2,331.2C337.7,331.7 340,334.9 342.8,337.2C345.5,339.5 349.3,341.7 351.8,344.8C354.4,347.8 355.9,351.8 357.9,355.4C359.9,358.9 361.9,364.9 363.9,365.9C366,367 368.7,363.7 370,361.4C371.3,359.1 371.8,355.1 371.5,352.3C371.3,349.6 370,346.5 368.5,344.8C367,343 362.9,342.8 362.4,341.7C361.9,340.7 362.9,338.2 365.5,338.7C368,339.2 374.8,343 377.6,344.8C380.3,346.5 382.6,349.6 382.1,349.3C381.6,349 375,343.7 374.4,343C373.9,342.3 378,344.1 379,345.3C380,346.4 379.6,348.9 380.5,349.8C381.4,350.7 382.4,350.4 384.3,350.6C386.2,350.7 389.7,350.1 391.8,350.6C394,351.1 395.2,352.3 397.1,353.6C399,354.9 400.9,357 403.2,358.1C405.4,359.3 407.9,359.9 410.7,360.4C413.5,360.9 408.5,361.6 420,361C431.5,360.4 470,344.3 480,357C490,369.7 496.7,410.3 480,437C463.3,463.7 411.7,490.3 380,517C348.3,543.7 316.7,583.7 290,597C263.3,610.3 234.2,602 220,597C205.8,592 201.7,583.7 205,567C208.3,550.3 229.5,512.3 240,497C250.5,481.7 261.7,478.9 268,475C274.3,471.1 276.4,475.6 277.7,473.4C279.1,471.1 277.2,465 276.2,461.2C275.2,457.5 273.4,454.7 271.7,450.7C269.9,446.6 267.1,440.8 265.6,437C264.1,433.3 263.1,430.7 262.6,428C262.1,425.2 261.6,421.4 262.6,420.4C263.6,419.4 267.1,422.7 268.6,421.9C270.2,421.2 270.2,417.6 271.7,415.9C273.2,414.1 275.7,412.8 277.7,411.3C279.7,409.8 282.5,409.1 283.8,406.8C285,404.5 285.5,400.2 285.3,397.7C285,395.2 282.5,393.7 282.3,391.7C282,389.6 283.8,388.1 283.8,385.6C283.8,383.1 284,379.1 282.3,376.5C280.5,374 276.5,373 273.2,370.5C269.9,368 266.1,364.4 262.6,361.4C259.1,358.4 255.5,355.4 252,352.3C248.5,349.3 244.7,345.8 241.4,343.3C238.1,340.7 233.9,339.2 232.3,337.2C230.8,335.2 232.8,333.7 232.3,331.2C231.8,328.6 230.3,325.6 229.3,322.1C228.3,318.6 227.5,313.3 226.3,310C225,306.7 223.3,303.9 221.8,302.4C220.2,300.9 219,302.4 217.2,300.9C215.4,299.4 212.4,295.9 211.2,293.3C209.9,290.8 208.6,286.8 209.6,285.8Z"/>
<path fill="#fff" d="M309.7,395.1C310.6,394.1 314,395.1 315.8,395.9C317.5,396.6 319.7,398.1 320.3,399.6C320.9,401.2 320.4,403.8 319.6,404.9C318.7,406.1 316.5,407 315,406.5C313.5,405.9 311.4,403.8 310.5,401.9C309.6,400 308.8,396.1 309.7,395.1Z"/>
<path fill="#fff" d="M314.3,411.7C315.9,411.6 320.2,413 321.8,414C323.5,415 324.6,415.9 324.1,417.8C323.6,419.7 320.2,422.8 318.8,425.4C317.4,427.9 317,430.4 315.8,432.9C314.5,435.4 313,438.8 311.2,440.5C309.5,442.1 307,443.3 305.2,442.8C303.4,442.3 301.4,439.9 300.7,437.5C299.9,435.1 300.1,430.9 300.7,428.4C301.2,425.9 302.2,423.6 303.7,422.3C305.2,421.1 308.3,422.1 309.7,420.8C311.1,419.6 311.2,416.3 312,414.8C312.8,413.3 312.6,411.9 314.3,411.7Z"/>
<path fill="#fff" d="M381.6,366.4C382.7,365.6 385,366.6 385.4,367.9C385.7,369.1 384.7,372.4 383.9,373.9C383,375.4 381,377.2 380.1,377C379.2,376.7 378.3,374.2 378.6,372.4C378.8,370.7 380.4,367.1 381.6,366.4Z"/>
<path fill="#fff" d="M293.1,437.5L295.4,437.9 295.1,440.5 293.1,440.2Z"/>
<path fill="#000" d="M178.6,349.3C179.6,348.2 182.4,346.8 183.9,347C185.4,347.3 187.3,349.3 187.7,350.8C188.1,352.3 187.3,355 186.2,356.1C185.1,357.3 182.3,358 180.9,357.6C179.5,357.3 178.3,355.2 177.9,353.8C177.5,352.5 177.6,350.4 178.6,349.3Z"/>
<path fill="#000" d="M182.4,364.4C183.4,363.6 185.4,362.7 187,363.7C188.5,364.7 190.2,367.8 191.5,370.5C192.8,373.1 194.3,377.3 194.5,379.6C194.8,381.8 194,383.5 193,384.1C192,384.7 190,384.9 188.5,383.3C187,381.8 185.2,377.4 183.9,375C182.7,372.6 181.2,370.7 180.9,369C180.7,367.2 181.4,365.3 182.4,364.4Z"/>
<path fill="#000" d="M249.7,369L253.5,369.7 253.5,373.5 250.5,373.5Z"/>
<path fill="#000" d="M251.2,397.7C251.8,397.2 252.9,398 253.5,399.2C254.1,400.5 254,403.5 255,405.3C256,407 257.8,408.7 259.6,409.8C261.3,411 264.7,411.2 265.6,412.1C266.5,413 266.1,414.7 264.9,415.1C263.6,415.5 260.1,415.5 258.1,414.4C256,413.2 254,410.3 252.8,408.3C251.5,406.3 250.7,404 250.5,402.3C250.2,400.5 250.7,398.2 251.2,397.7Z"/>
<path fill="#000" d="M207.8,335.4L210.9,336 210.6,338.7 208.1,338.4Z"/>
<path fill="#000" d="M386.5,245.4C387.4,244.9 389.5,244.3 390.3,244.7C391.1,245.1 391.6,246.7 391.5,247.7C391.3,248.7 390.4,250.4 389.6,250.7C388.7,251.1 387.2,250.5 386.5,250C385.8,249.5 385.4,248.5 385.4,247.7C385.4,247 385.7,245.9 386.5,245.4Z"/>
<path fill="#000" d="M264.8,253.3C265.2,251.7 266.7,248.7 267.8,247.2C268.9,245.8 270.3,244.6 271.6,244.6C272.8,244.6 274.2,245.8 275.4,247.2C276.5,248.7 278.3,251.6 278.4,253.3C278.5,255 277.5,256.6 276.1,257.4C274.7,258.2 271.8,258.3 270.1,258.2C268.3,258 266.4,257.5 265.5,256.7C264.6,255.8 264.4,254.8 264.8,253.3Z"/>
<path fill="#000" d="M214.4,156.6C214.7,155.1 216.8,153.8 218.2,152.1C219.6,150.3 221.6,147.8 222.8,146C223.9,144.3 224,141.9 225,141.5C226,141.1 227.4,143 228.8,143.8C230.2,144.5 231.6,145.7 233.3,146C235.1,146.4 237.5,146.5 239.4,146C241.3,145.5 243.2,144 244.7,143C246.2,142 247.3,140.1 248.5,140C249.6,139.9 251,140.7 251.5,142.2C252,143.8 252,147.2 251.5,149.1C251,150.9 249.9,152.1 248.5,153.6C247.1,155.1 244.7,156.6 243.2,158.1C241.7,159.6 241,161.4 239.4,162.7C237.8,163.9 235.4,165.6 233.3,165.7C231.3,165.8 229.3,163.9 227.3,163.4C225.3,162.9 223,163 221.2,162.7C219.5,162.3 217.8,162.2 216.7,161.2C215.6,160.1 214.2,158.1 214.4,156.6Z"/>
<path fill="#000" d="M201.6,152.1C202.1,151.2 204.6,150.2 206.1,150.6C207.6,150.9 210,153.2 210.7,154.3C211.3,155.5 210.7,156.6 209.9,157.4C209.1,158.1 207.3,159.1 206.1,158.9C205,158.6 203.8,157 203.1,155.9C202.3,154.7 201.1,153 201.6,152.1Z"/>
<path fill="#fff" d="M145.6,286.1C146.6,285.4 149.4,284.1 151.7,283.9C153.9,283.6 158.1,284 159.2,284.6C160.4,285.2 160,286.9 158.5,287.6C157,288.4 152.3,289 150.2,289.1C148,289.3 146.4,288.9 145.6,288.4C144.9,287.9 144.6,286.9 145.6,286.1Z"/>
<path fill="#fff" d="M42.8,181.7C42.8,181.2 44.3,182 45.8,183.3C47.3,184.5 49.8,189.1 51.8,189.3C53.8,189.6 56.1,186 57.9,184.8C59.6,183.5 61.8,181.2 62.4,181.7C63.1,182.3 62.2,186 61.7,187.8C61.2,189.6 59.3,190.6 59.4,192.3C59.5,194.1 61.8,196.6 62.4,198.4C63.1,200.2 63.9,202.4 63.2,202.9C62.4,203.4 59.5,202.7 57.9,201.4C56.2,200.2 54.6,197.4 53.3,195.4C52.1,193.3 51.6,190.8 50.3,189.3C49.1,187.8 47,187.5 45.8,186.3C44.5,185 42.8,182.3 42.8,181.7Z"/>
<path fill="#fff" d="M68.5,192.3C69,190.2 71.2,187.5 73,186.3C74.8,185 77,184.5 79.1,184.8C81.1,185 84.6,186 85.1,187.8C85.6,189.6 83.6,193.3 82.1,195.4C80.6,197.4 78.1,199.3 76,199.9C74,200.5 71.2,200.4 70,199.1C68.7,197.9 68,194.5 68.5,192.3Z"/>
<path fill="#fff" d="M17,203.7L26.1,207.5 23.1,211.2 17,213.5Z"/>
<path fill="#fff" d="M31.4,205.2L34.4,205.6 34,207.8 31.4,207.5Z"/>
<path fill="#fff" d="M40.5,205.2L44.3,204.4 43.5,207.5 40.5,208.2Z"/>
<path fill="#fff" d="M32.9,213.5C33.8,211.2 37.1,210.2 38.2,210.5C39.4,210.7 40,213 39.7,215C39.5,217 37.8,221.1 36.7,222.6C35.6,224.1 33.6,225.6 32.9,224.1C32.3,222.6 32,215.8 32.9,213.5Z"/>
<path fill="#fff" d="M160.7,139.4L164.5,139.4 165.3,142.7 161.5,143.2Z"/>
<path fill="#fff" d="M127.5,153L130.5,152.7 130.2,155.3 127.8,155.3Z"/>
<path fill="#fff" d="M116.9,248.3C117.8,246.5 119.4,243.5 121.4,242.3C123.4,241 126.6,240.5 129,240.7C131.4,241 135,242.5 135.8,243.8C136.5,245 135.2,246.8 133.5,248.3C131.9,249.8 128.2,251.6 126,252.8C123.7,254.1 121.5,255.9 119.9,255.9C118.3,255.9 116.6,254.1 116.1,252.8C115.6,251.6 116,250.1 116.9,248.3Z"/>
<path fill="#fff" d="M379.3,437.5C378.8,440.5 372,447.5 370.2,451.1C368.5,454.6 368.2,456.1 368.7,458.6C369.2,461.2 371.8,463.9 373.3,466.2C374.8,468.5 376.7,469.5 377.8,472.3C378.9,475 379.9,479.1 380.1,482.8C380.2,486.6 379.9,491.7 378.6,494.9C377.2,498.2 374.1,501.8 371.8,502.5C369.4,503.3 366,501.2 364.2,499.5C362.4,497.7 361.2,494.7 361.2,491.9C361.2,489.1 364.2,484.9 364.2,482.8C364.2,480.8 362.7,479.8 361.2,479.8C359.6,479.8 357.1,481.1 355.1,482.8C353.1,484.6 351.3,488.4 349.1,490.4C346.8,492.4 343.8,493.9 341.5,494.9C339.2,496 336.5,497.5 335.4,496.5C334.4,495.4 334.2,490.7 335.4,488.9C336.7,487.1 341.5,487.6 343,485.9C344.5,484.1 343.8,480.6 344.5,478.3C345.3,476 345.8,474.3 347.5,472.3C349.3,470.2 352.8,468.7 355.1,466.2C357.4,463.7 360.7,459.6 361.2,457.1C361.7,454.6 357.6,453.8 358.1,451.1C358.6,448.3 361.7,443.5 364.2,440.5C366.7,437.5 370.7,433.4 373.3,432.9C375.8,432.4 379.8,434.4 379.3,437.5Z"/>
<path fill="#000" d="M361.9,471.5C362.7,470.5 365.3,469.3 366.5,469.5C367.6,469.8 368.9,471.9 368.7,473C368.6,474.2 366.8,476.1 365.7,476.5C364.6,476.9 362.5,476.1 361.9,475.3C361.3,474.4 361.2,472.5 361.9,471.5Z"/>
<path fill="#fff" d="M512.4,340.6C513.8,340.6 518,341.6 521.5,343.6C525,345.6 530.6,349.7 533.6,352.7C536.6,355.7 538.5,358.7 539.7,361.8C540.8,364.8 540.9,370.1 540.4,370.8C539.9,371.6 538.8,368.6 536.6,366.3C534.5,364 530.6,359.9 527.6,357.2C524.5,354.6 520.9,352.7 518.5,350.4C516.1,348.1 514.2,345.2 513.2,343.6C512.2,342 511,340.6 512.4,340.6Z"/>
<path fill="#fff" d="M520,373.2C522,373.2 525.3,375.1 527.6,377C529.8,378.8 532.1,381.5 533.6,384.5C535.1,387.5 536.1,391.6 536.6,395.1C537.1,398.6 537,402.9 536.6,405.7C536.3,408.5 535.4,411.5 534.4,411.7C533.4,412 532,408.5 530.6,407.2C529.2,405.9 527.3,405.4 526,404.2C524.8,402.9 523,401.2 523,399.6C523,398.1 526.3,397.1 526,395.1C525.8,393.1 523.3,389.6 521.5,387.5C519.7,385.5 516.5,384.8 515.5,383C514.4,381.2 514.7,378.6 515.5,377C516.2,375.3 518,373.2 520,373.2Z"/>
<path fill="#fff" d="M500.3,416.3C498.1,416 492.5,419.8 489.7,420.8C487,421.8 485,421.1 483.7,422.3C482.4,423.6 481.9,426.1 482.2,428.4C482.4,430.7 485.5,433.4 485.2,435.9C485,438.5 481.7,441.5 480.7,443.5C479.7,445.5 478.4,446 479.2,448.1C479.9,450.1 483.2,453.1 485.2,455.6C487.2,458.1 490,460.4 491.3,463.2C492.5,466 492.8,469.5 492.8,472.3C492.8,475 491.4,477 491.3,479.8C491.1,482.6 492.5,486.5 492,488.9C491.5,491.3 489.4,493.7 488.2,494.2C487.1,494.7 487,493.3 485.2,491.9C483.4,490.5 479.9,488.1 477.6,485.9C475.4,483.6 473.9,480.3 471.6,478.3C469.3,476.3 466.8,473.8 464,473.8C461.3,473.8 457.5,478.6 454.9,478.3C452.4,478.1 451.4,473.3 448.9,472.3C446.4,471.2 441.5,471.5 439.8,472.3C438.2,473 438.3,475 439.1,476.8C439.8,478.6 442.5,480.6 444.4,482.8C446.3,485.1 448.4,487.6 450.4,490.4C452.4,493.2 454.7,496.7 456.5,499.5C458.2,502.3 460,504.5 461,507C462,509.6 462.8,512.6 462.5,514.6C462.3,516.6 461.3,519.7 459.5,519.1C457.7,518.6 454.4,513.2 451.9,511.6C449.4,509.9 446.9,509.1 444.4,509.3C441.8,509.6 438.8,511.2 436.8,513.1C434.8,515 433.3,518.1 432.3,520.7C431.2,523.2 432,526.2 430.7,528.2C429.5,530.2 426.7,531.5 424.7,532.8C422.7,534 420.7,534.3 418.6,535.8C416.6,537.3 413.6,539.6 412.6,541.8C411.6,544.1 411.3,547.4 412.6,549.4C413.9,551.4 418.6,551.4 420.2,553.9C421.7,556.5 422.7,562.3 421.7,564.5C420.7,566.8 416.4,566.5 414.1,567.6C411.8,568.6 409.2,568.6 408.1,570.6C406.9,572.6 406.8,576.9 407.3,579.7C407.8,582.4 409.4,584.7 411.1,587.2C412.7,589.7 415.6,592 417.1,594.8C418.6,597.6 419.1,601.3 420.2,603.9C421.2,606.4 423.2,607.9 423.2,609.9C423.2,611.9 420.4,614.2 420.2,616C419.9,617.7 419.9,619.7 421.7,620.5C423.4,621.3 427.5,620.5 430.7,620.5C434,620.5 437.8,620.8 441.3,620.5C444.9,620.2 449.8,620.5 451.9,619C454.1,617.5 454.2,613.9 454.2,611.4C454.2,608.9 451.5,605.9 451.9,603.9C452.3,601.8 454.7,599.3 456.5,599.3C458.2,599.3 460.2,603.9 462.5,603.9C464.8,603.9 467.6,601.3 470.1,599.3C472.6,597.3 475.6,594.3 477.6,591.8C479.7,589.2 480.4,586.5 482.2,584.2C483.9,581.9 486.6,579.9 488.2,578.1C489.9,576.4 491.8,575.9 492,573.6C492.3,571.3 490.6,567.6 489.7,564.5C488.9,561.5 487.5,558.7 486.7,555.5C486,552.2 486,548.4 485.2,544.9C484.4,541.3 481.4,535 482.2,534.3C482.9,533.5 486.7,537.8 489.7,540.3C492.8,542.8 497.3,546.4 500.3,549.4C503.4,552.4 505.6,554.9 507.9,558.5C510.2,562 513.2,566.5 513.9,570.6C514.7,574.6 513.7,578.6 512.4,582.7C511.2,586.7 508.6,590.2 506.4,594.8C504.1,599.3 501.1,605.1 498.8,609.9C496.5,614.7 494,620 492.8,623.5C491.5,627.1 490.5,628.8 491.3,631.1C492,633.4 493.8,635.6 497.3,637.1C500.8,638.7 507.4,639.2 512.4,640.2C517.5,641.2 521.8,642.7 527.6,643.2C533.4,643.7 543.9,671.2 547.2,643.2C550.5,615.2 548.2,505 547.2,475.3C546.2,445.5 542.9,468.5 541.2,464.7C539.4,460.9 536.9,455.6 536.6,452.6C536.4,449.6 538.9,449.1 539.7,446.5C540.4,444 541.7,440.7 541.2,437.5C540.7,434.2 538.9,428.9 536.6,426.9C534.4,424.9 530.1,424.6 527.6,425.4C525,426.1 523.5,430.2 521.5,431.4C519.5,432.7 517.2,433.7 515.5,432.9C513.7,432.2 512.9,428.6 510.9,426.9C508.9,425.1 505.1,424.1 503.4,422.3C501.6,420.6 502.6,416.5 500.3,416.3Z"/>
<path fill="#000" d="M493.5,498C494.8,496.5 499.4,493.2 501.8,491.9C504.2,490.7 506.1,489.6 507.9,490.4C509.7,491.2 511.2,494.2 512.4,496.5C513.7,498.7 514.4,501.2 515.5,504C516.5,506.8 516.7,510.6 518.5,513.1C520.2,515.6 523.5,517.4 526,519.1C528.6,520.9 530.8,521.7 533.6,523.7C536.4,525.7 540.9,529.5 542.7,531.2C544.5,533 544.2,531.8 544.5,534.3C544.8,536.8 545.1,542.8 544.5,546.4C543.9,549.9 543,553.7 541.2,555.5C539.4,557.2 536.1,557.5 533.6,557C531.1,556.5 528.1,554.4 526,552.4C524,550.4 522.8,547.1 521.5,544.9C520.2,542.6 519.7,540.6 518.5,538.8C517.2,537 516,535.3 513.9,534.3C511.9,533.3 508.1,534 506.4,532.8C504.6,531.5 504.4,529 503.4,526.7C502.3,524.4 501.3,521.9 500.3,519.1C499.3,516.4 498.3,513.1 497.3,510.1C496.3,507 494.9,503 494.3,501C493.6,499 492.3,499.5 493.5,498Z"/>
<path fill="#000" d="M448.9,559.2C449.4,557.7 452.7,556.9 454.2,557.3C455.7,557.6 457.7,560 458,561.5C458.2,563 456.8,565.2 455.7,566C454.6,566.8 452.3,567.5 451.2,566.3C450,565.2 448.4,560.7 448.9,559.2Z"/>
<path fill="#000" d="M526,634.1C526.9,633.3 530.7,632.7 532.1,633.1C533.5,633.4 534.6,635.3 534.4,636.4C534.1,637.4 531.8,639.2 530.6,639.4C529.3,639.7 527.6,638.8 526.8,637.9C526,637 525.2,634.9 526,634.1Z"/>
<path fill="#000" d="M538.1,569.1L542.7,570.6 542.7,579.7 538.9,576.6Z"/>
<path fill="#fff" d="M506.4,499.5L509.1,499.8 509.4,502.5 506.7,502.2Z"/>
</mask>
<mask id="b1" maskUnits="userSpaceOnUse" x="-5" y="-5" width="555.6" height="652">
<path fill="#fff" d="M78.5,121.2C38.6,122 78.5,124.4 78.5,125.8C78.5,127.2 77.5,128.5 78.5,129.6C79.5,130.6 82.6,131 84.4,131.8C86.2,132.6 88.6,132.9 89.3,134.4C89.9,135.9 88.5,139 88.2,140.9C87.8,142.8 86.8,144.1 87.1,146C87.5,148 88.9,150.6 90.3,152.6C91.7,154.5 93.6,155.2 95.6,157.8C97.6,160.5 100,165.6 102.1,168.6C104.3,171.6 106.2,173.9 108.5,176C110.8,178.1 113.9,179.7 115.9,181.3C117.8,182.9 119.8,183.9 120.1,185.5C120.5,187.1 119.8,190.1 118,191C116.2,191.9 112.2,189.9 109.5,191C106.9,192 104.6,195.7 102.1,197.3C99.6,198.9 96.3,198.2 94.5,200.5C92.8,202.8 91.9,208.2 91.4,211.2C90.8,214.3 90.8,215.5 91.4,218.7C91.9,221.8 93.1,226.7 94.5,230.3C96,233.9 98.1,237 99.8,240C101.6,243 104.6,245.8 105.3,248.5C106,251.1 104.2,254.1 104.1,255.9C104,257.6 104.6,257.1 104.8,258.9C105.1,260.7 107,263.4 105.6,266.5C104.2,269.5 99,275 96.5,277C94,279.1 92.6,276.3 90.5,278.6C88.3,280.8 86.2,287.9 83.7,290.7C81.1,293.4 77.2,293.2 75.3,295.2C73.4,297.2 73.8,301 72.3,302.8C70.8,304.5 67.8,304 66.3,305.8C64.7,307.6 63.7,310.1 63.2,313.4C62.7,316.6 63.5,321.9 63.2,325.5C63,329 61.7,330.5 61.7,334.5C61.7,338.6 62.7,346.6 63.2,349.7C63.7,352.7 62.7,351.5 64.7,352.8C66.8,354 73.3,355.5 75.3,357.3C77.4,359.1 77.2,360.8 76.8,363.3C76.5,365.9 73.8,369.1 73.1,372.4C72.3,375.7 71.9,379.2 72.3,383C72.7,386.8 74.3,391.6 75.3,395.1C76.3,398.6 76.8,400.9 78.4,404.2C79.9,407.5 82.4,411.7 84.4,414.8C86.4,417.8 87.9,420.6 90.5,422.3C93,424.1 97.5,423.6 99.5,425.4C101.6,427.1 101.1,430.4 102.6,432.9C104.1,435.4 106.6,437.7 108.6,440.5C110.6,443.3 112.9,447.3 114.7,449.6C116.4,451.8 116.9,453.6 119.2,454.1C121.5,454.6 125,452.6 128.3,452.6C131.6,452.6 135.3,453 138.9,454.1C142.4,455.2 145.9,459.1 149.5,459.4C153,459.6 156.5,456.4 160,455.6C163.6,454.9 167.4,454.2 170.6,454.9C173.9,455.5 176.4,458 179.7,459.4C183,460.8 186.8,462.8 190.3,463.2C193.8,463.6 198.1,461.7 200.9,461.7C203.7,461.7 205.7,464.7 206.9,463.2C208.2,461.7 207.2,454.7 208.5,452.6C209.7,450.4 212.2,449.9 214.5,450.3C216.8,450.7 221.1,455.2 222.1,454.9C223.1,454.5 221.1,449.9 220.6,448.1C220,446.2 218.5,443.8 219,443.5C219.5,443.3 221.8,444.5 223.6,446.5C225.3,448.6 227.6,453.1 229.6,455.6C231.6,458.1 233.7,460.2 235.7,461.7C237.7,463.2 240.5,462.9 241.7,464.7C243,466.5 243.5,470.2 243.2,472.3C243,474.3 240,475.7 240.2,476.8C240.5,477.9 242.5,480.6 244.8,479.1C247,477.5 250.8,470.6 253.8,467.7C256.9,464.8 260.1,462.4 262.9,461.7C265.7,460.9 268.2,462.7 270.5,463.2C272.7,463.7 276.4,467.5 276.5,464.7C276.6,461.9 272.4,450.1 271.2,446.5C270.1,443 268.4,443.5 269.7,443.5C271,443.5 275.5,445.8 278.8,446.5C282.1,447.3 285.8,447.3 289.4,448.1C292.9,448.8 296.2,450.6 300,451.1C303.7,451.6 309,452.3 312.1,451.1C315.1,449.8 316.1,446 318.1,443.5C320.1,441 322.1,438.5 324.2,435.9C326.2,433.4 328.7,431.2 330.2,428.4C331.7,425.6 332.7,422.3 333.2,419.3C333.7,416.3 333.7,413.5 333.2,410.2C332.7,407 331,402.9 330.2,399.6C329.5,396.4 327.4,392.8 328.7,390.6C330,388.3 334,387.4 337.8,386C341.6,384.6 346.6,382.6 351.4,382.2C356.2,381.9 362.7,382.4 366.5,383.8C370.3,385.1 372.7,387.9 374.1,390.6C375.5,393.2 376.1,395.9 374.8,399.6C373.6,403.4 368.9,408 366.5,413.3C364.1,418.6 360.2,428.8 360.5,431.4C360.7,434.1 367.2,428.8 368,429.1C368.8,429.5 366.9,431.8 365.2,433.5C363.5,435.2 360.1,437.5 357.6,439.6C355.1,441.6 352.2,443.6 350.1,445.6C347.9,447.6 346.8,450.3 344.8,451.7C342.8,453.1 339.9,452.9 338,453.9C336.1,454.9 334.6,455.8 333.4,457.7C332.3,459.6 332.2,463.2 331.2,465.3C330.1,467.3 329.4,468.1 326.9,470C324.4,471.9 318.3,473.4 316.3,476.8C314.3,480.2 314.5,486.6 315.1,490.4C315.6,494.2 317.1,497.5 319.6,499.5C322.1,501.5 326.7,501.2 330.2,502.5C333.7,503.8 338.5,505 340.8,507C343.1,509.1 343.1,511.8 343.8,514.6C344.6,517.4 345.8,520.9 345.3,523.7C344.8,526.5 339.8,530.2 340.8,531.2C341.8,532.3 347.9,530.4 351.4,529.7C354.9,529.1 359.7,526.5 362,527.5C364.2,528.5 364,532.1 365,535.8C366,539.4 366.3,545.6 368,549.4C369.8,553.2 373.6,555.2 375.6,558.5C377.6,561.8 378.6,565.5 380.1,569.1C381.6,572.6 382.9,576.4 384.7,579.7C386.4,582.9 387.9,586.2 390.7,588.7C393.5,591.3 398.3,592.8 401.3,594.8C404.3,596.8 407.6,599.1 408.9,600.8C410.1,602.6 410.1,604.4 408.9,605.4C407.6,606.4 402.9,605.4 401.3,606.9C399.7,608.4 398.8,611.7 399,614.4C399.3,617.2 400.7,621.5 402.8,623.5C405,625.5 408.1,625.4 411.9,626.5C415.7,627.7 421.5,630.1 425.5,630.3C429.5,630.6 431.8,628.2 436.1,628.1C440.4,627.9 447.2,628.8 451.2,629.6C455.3,630.3 458,630.6 460.3,632.6C462.6,634.6 464.1,638.9 464.8,641.7C465.6,644.4 450.5,648 464.8,649.2C479.2,650.5 536.7,698.9 551.1,649.2C565.4,599.6 552.3,400.8 551.1,351.2C549.8,301.5 546,352.2 543.5,351.2C541,350.2 538.2,347.6 535.9,345.1C533.7,342.6 532.7,338.1 529.9,336C527.1,334 522.6,334.7 519.3,333C516,331.4 512.7,326.5 510.2,326.2C507.7,326 505.3,329.1 504.2,331.5C503,333.9 504.2,337.8 503.4,340.6C502.7,343.4 501.3,346.9 499.6,348.1C498,349.4 494.8,347.1 493.6,348.1C492.3,349.2 492.8,351.9 492.1,354.2C491.3,356.5 490.3,359.5 489,361.8C487.8,364 485.6,365.3 484.5,367.8C483.4,370.3 481.7,373.6 482.2,376.9C482.7,380.2 487.4,385.2 487.5,387.5C487.7,389.7 484.8,389.5 483,390.5C481.2,391.5 478.7,392 476.9,393.5C475.2,395 473.9,397.8 472.4,399.6C470.9,401.3 468.7,402.3 467.9,404.1C467,405.9 467.4,407.2 467.1,410.2C466.9,413.3 466,418.3 466.4,422.3C466.7,426.4 468.6,430.4 469.4,434.4C470.1,438.5 469.9,442.8 470.9,446.5C471.9,450.3 473.9,453.6 475.4,457.1C476.9,460.7 478.7,464.4 480,467.7C481.2,471 483,475 483,476.8C483,478.6 481.7,479.6 480,478.3C478.2,477 474.9,472 472.4,469.2C469.9,466.5 467.4,462.9 464.8,461.7C462.3,460.4 460,462.2 457.3,461.7C454.5,461.2 451.7,459.3 448.2,458.6C444.7,458 439.9,458 436.1,457.9C432.3,457.8 428.3,457.3 425.5,457.9C422.7,458.5 421.7,461.5 419.5,461.7C417.2,461.8 414,460.2 411.9,458.6C409.8,457.1 407.5,455.1 406.6,452.6C405.7,450.1 406.6,446.5 406.6,443.5C406.6,440.5 406,438 406.6,434.4C407.2,430.9 409.8,426.4 410.4,422.3C411,418.3 410.3,413.1 410.4,410.2C410.5,407.3 411.6,406.1 411.1,404.9C410.6,403.8 409,404.6 407.4,403.4C405.7,402.3 402.4,401 401.3,398.1C400.2,395.2 400.3,389.3 400.5,386C400.8,382.8 403.1,380.2 402.8,378.5C402.6,376.7 399.8,378.3 399,375.4C398.3,372.5 396.4,363.5 398.3,361.1C400.2,358.7 408.4,364 410.4,361.1C412.4,358.2 410.3,348 410.4,343.6C410.5,339.2 411.1,340.1 411.1,334.5C411.1,329 411.3,315.9 410.4,310.3C409.5,304.8 407.1,303.3 405.8,301.2C404.6,299.2 404.1,300 402.8,298.2C401.6,296.5 398.9,293.2 398.3,290.7C397.6,288.1 399,285.9 399,283.1C399,280.3 398.9,276.5 398.3,274C397.6,271.5 395.8,270 395.3,268C394.7,266 394.2,262.9 395.3,261.9C396.3,260.9 399.7,262.4 401.3,261.9C402.9,261.4 404.2,260.9 405.1,258.9C406,256.9 406.6,252.6 406.6,249.8C406.6,247 405.7,244.3 405.1,242.3C404.5,240.2 403.4,238.7 402.8,237.7C402.2,236.7 402.6,237 401.3,236.2C400,235.4 397.3,234.7 395.3,233.2C393.2,231.7 391.5,229.1 389.2,227.1C386.9,225.1 384.4,222.3 381.6,221.1C378.9,219.8 376.1,220.1 372.6,219.6C369,219.1 364,218.8 360.5,218.1C356.9,217.3 352.4,216.5 351.4,215C350.4,213.5 352.9,209.7 354.4,209C355.9,208.2 358.4,209.5 360.5,210.5C362.5,211.5 364,214.8 366.5,215C369,215.3 373.6,213.8 375.6,212C377.6,210.2 377.9,207.2 378.6,204.4C379.4,201.7 380.4,198.1 380.1,195.4C379.9,192.6 377.9,189.8 377.1,187.8C376.3,185.8 376.8,185 375.6,183.3C374.3,181.5 371.1,179.5 369.5,177.2C368,174.9 366.5,170.9 366.5,169.6C366.5,168.4 368.8,171.2 369.5,169.6C370.2,168.1 371,163.6 370.7,160.6C370.5,157.5 369,153.9 368,151.5C367.1,149.1 366.5,147 365,146.2C363.5,145.4 360.7,145.8 358.9,147C357.2,148.1 356.2,151.2 354.4,153C352.6,154.8 350.6,157.8 348.4,157.5C346.1,157.3 343.3,153.8 340.8,151.5C338.3,149.2 335.8,145.9 333.2,143.9C330.7,141.9 327.6,141 325.7,139.4C323.8,137.8 322.9,135.7 321.9,134.1C320.9,132.5 320.1,130.9 319.6,129.6C319.1,128.2 319.1,127.2 318.9,125.8C318.6,124.4 358.2,122 318.1,121.2C278,120.5 118.4,120.5 78.5,121.2Z"/>
<path fill="#000" d="M112.7,127.3C112.9,129.5 113.2,134.6 113.8,137.6C114.3,140.5 114.6,143.6 115.9,145C117.1,146.4 119.2,146.8 121.2,146C123.1,145.3 124.8,142.5 127.7,140.8C130.5,139 132.9,136.9 138.3,135.5C143.6,134 152.5,133.2 159.6,132.3C166.7,131.4 174.2,130.9 180.9,130.2C187.6,129.5 196.6,129 199.7,128C202.8,127.1 214.2,124.9 199.7,124.3C185.2,123.6 127.2,123.8 112.7,124.3C98.2,124.8 112.5,125.1 112.7,127.3Z"/>
<path fill="#000" d="M149.5,207.5C150.7,206.6 156.1,208.1 158.5,209.7C160.9,211.4 160.5,215.4 163.8,217.3C167.1,219.2 174.3,220.2 178.2,221.1C182.1,222 185.1,221.6 187.3,222.6C189.4,223.6 190.8,225.1 191.1,227.1C191.3,229.1 190.4,231.9 188.8,234.7C187.1,237.5 183.5,240.7 181.2,243.8C179,246.8 176.9,251 175.2,252.8C173.4,254.7 172,255.9 170.6,255.1C169.2,254.4 167.6,251.2 166.9,248.3C166.1,245.4 166,240.5 166.1,237.7C166.2,234.9 168.9,233.7 167.6,231.7C166.3,229.6 160.8,227.1 158.5,225.6C156.3,224.1 155.3,224.4 154,222.6C152.7,220.8 151.7,217.5 151,215C150.2,212.5 148.2,208.3 149.5,207.5Z"/>
<path fill="#000" d="M134.3,298.2C135.1,297.5 139.1,301.8 141.9,302.8C144.7,303.8 147.9,303.5 151,304.3C154,305 157.8,306 160,307.3C162.3,308.6 164.3,310.1 164.6,311.8C164.8,313.6 163.3,316.6 161.6,317.9C159.8,319.1 156.8,320.2 154,319.4C151.2,318.6 147.7,315.4 144.9,313.4C142.1,311.3 139.1,309.8 137.4,307.3C135.6,304.8 133.6,299 134.3,298.2Z"/>
<path fill="#000" d="M238.4,317.6L243.5,317.1 244,320.9 240.2,322.4Z"/>
<path fill="#000" d="M255.3,319.4C256.4,316.9 260.1,315.4 262.9,316.4C265.7,317.4 269.2,322.2 272,325.5C274.8,328.7 278.6,335 279.7,336C280.8,337 277.4,331.5 278.8,331.5C280.1,331.5 285.1,333.3 287.9,336C290.6,338.8 292.1,345.1 295.4,348.1C298.7,351.2 304.2,350.4 307.5,354.2C310.8,358 312.8,366.5 315.1,370.8C317.3,375.1 319.6,377.4 321.1,379.9C322.6,382.4 324.4,384.7 324.2,386C323.9,387.2 321.9,388.7 319.6,387.5C317.3,386.2 314.3,380.9 310.5,378.4C306.8,375.9 301.7,374.1 296.9,372.3C292.1,370.6 286.3,370.1 281.8,367.8C277.3,365.5 271.6,360.5 269.7,358.7C267.8,357 271.9,359.2 270.5,357.2C269.1,355.2 263.7,350.9 261.4,346.6C259.1,342.3 257.9,336 256.9,331.5C255.8,327 254.3,321.9 255.3,319.4Z"/>
<path fill="#fff" d="M275.8,351.9C276.8,351 280,350.4 281,351.2C282.1,351.9 282.6,355.1 282.1,356.5C281.6,357.8 279.2,359.5 278,359.5C276.8,359.5 275.4,357.7 275,356.5C274.6,355.2 274.7,352.8 275.8,351.9Z"/>
<path fill="#000" d="M343.8,354.2L346.1,354.2 348.4,363.3 346.1,363.3Z"/>
<path fill="#fff" d="M349.1,405.7L352.9,404.2 352.6,413.3 349.9,417.8Z"/>
<path fill="#000" d="M378.6,451.1C381.1,449.6 391.1,448.3 393.7,449.6C396.4,450.8 395.3,455.9 394.5,458.6C393.7,461.4 391.1,465.2 389.2,466.2C387.3,467.2 384.9,466 383.2,464.7C381.4,463.4 379.4,460.9 378.6,458.6C377.9,456.4 376.1,452.6 378.6,451.1Z"/>
<path fill="#000" d="M419.5,471.5L424,472.3 423.2,475.3 419.8,475Z"/>
<path fill="#000" d="M413.4,490.4L418.7,489.6 417.2,497.2 412.6,496.5Z"/>
<path fill="#000" d="M430.8,491.9C431.8,491.2 434.9,490.5 436.1,491.2C437.3,491.8 438.3,494.6 437.9,495.7C437.5,496.8 435.1,497.7 433.8,497.7C432.6,497.7 430.9,496.7 430.3,495.7C429.8,494.7 429.8,492.7 430.8,491.9Z"/>
<path fill="#000" d="M461.8,608.4C464.7,606.6 474.9,604.9 478.5,605.4C482,605.9 483,608.4 483,611.4C483,614.4 480.2,619.5 478.5,623.5C476.7,627.6 474.9,633.9 472.4,635.6C469.9,637.4 465.6,635.6 463.3,634.1C461.1,632.6 459.2,629.6 458.8,626.5C458.4,623.5 460.6,619 461.1,616C461.6,612.9 458.9,610.2 461.8,608.4Z"/>
<path fill="#000" d="M487.5,388.2L492.1,389.7 491.3,392 487.5,390.8Z"/>
<path fill="#000" d="M390.7,431.4L398.3,423.8 402.8,431.4 395.3,439Z"/>
<path fill="#000" d="M380.1,440.5C381.4,438.2 386.7,437 389.2,437.5C391.7,438 394.5,441.2 395.3,443.5C396,445.8 396,449.8 393.7,451.1C391.5,452.3 383.9,452.8 381.6,451.1C379.4,449.3 378.9,442.8 380.1,440.5Z"/>
<path fill="#000" d="M108.9,136.4L113.2,135.6 114.2,143.9 110.9,145.1Z"/>
<path fill="#000" d="M113.9,155.3L116.9,155.6 116.6,158.3 114.2,158Z"/>
<path fill="#000" d="M116.2,223.3L119.2,223.6 118.9,226.4 116.5,226.1Z"/>
<path fill="#000" d="M105.6,279.3L110.1,278.6 110.9,283.1 107.1,283.9Z"/>
<path fill="#fff" d="M5.8,187.8C7.4,185.3 13.6,185 14.8,183.3C16.1,181.5 12.6,178 13.3,177.2C14.1,176.5 16.8,180 19.4,178.7C21.9,177.5 24.4,172.2 28.4,169.6C32.5,167.1 38.3,165.5 43.6,163.6C48.9,161.7 55.4,158.6 60.2,158.3C65,158 68.3,160.2 72.3,162.1C76.3,164 81.1,167.1 84.4,169.6C87.7,172.2 90.3,174.7 92,177.2C93.6,179.7 94.2,182.3 94.2,184.8C94.2,187.3 93.6,190.1 92,192.3C90.3,194.6 87.2,196.6 84.4,198.4C81.6,200.2 78.4,201.2 75.3,202.9C72.3,204.7 68.8,207.2 66.3,209C63.7,210.7 61.5,211.7 60.2,213.5C58.9,215.3 58.4,217.5 58.7,219.6C58.9,221.6 61.5,223.1 61.7,225.6C62,228.1 61.2,231.9 60.2,234.7C59.2,237.5 57.4,239.7 55.7,242.3C53.9,244.8 51.1,247 49.6,249.8C48.1,252.6 48.1,257.1 46.6,258.9C45.1,260.7 42.8,260.4 40.5,260.4C38.3,260.4 35.2,260.2 33,258.9C30.7,257.6 27.7,255.1 26.9,252.8C26.2,250.6 28.9,247.3 28.4,245.3C27.9,243.3 25.4,240.7 23.9,240.7C22.4,240.7 20.4,245.8 19.4,245.3C18.4,244.8 18.6,240.5 17.9,237.7C17.1,234.9 16.1,231.4 14.8,228.6C13.6,225.9 11.5,224.1 10.3,221.1C9,218.1 8.1,214.3 7.3,210.5C6.4,206.7 5.2,202.2 5,198.4C4.7,194.6 4.1,190.3 5.8,187.8Z"/>
<path fill="#fff" d="M67.8,143.2C68.8,141.8 76.3,141 78.4,141.7C80.4,142.3 79.7,144.3 79.9,147C80,149.6 79.6,155.5 79.1,157.5C78.6,159.6 78,160.3 76.8,159.1C75.7,157.8 73.8,152.6 72.3,150C70.8,147.3 66.8,144.6 67.8,143.2Z"/>
<path fill="#fff" d="M2.7,231.7C3.5,230.5 6.1,230.2 7.3,230.9C8.4,231.7 9.8,234.7 9.5,236.2C9.3,237.7 6.9,239.7 5.8,240C4.6,240.2 3.2,239.1 2.7,237.7C2.2,236.3 2,232.8 2.7,231.7Z"/>
<path fill="#fff" d="M77.6,221.1C78.1,220.7 79.9,223.3 81.4,225.6C82.9,227.9 86.2,233.1 86.7,234.7C87.2,236.3 85.8,236.6 84.4,235.4C83,234.3 79.5,230.3 78.4,227.9C77.2,225.5 77.1,221.5 77.6,221.1Z"/>
<path fill="#fff" d="M-0.3,277L6.5,279.3 6.5,287.6 -0.3,289.1Z"/>
<path fill="#fff" d="M15.6,348.1C16.8,346.1 21.8,342.3 23.1,342.1C24.5,341.8 24.5,344.1 23.9,346.6C23.3,349.2 20.8,356 19.4,357.2C18,358.5 16.2,355.7 15.6,354.2C15,352.7 14.3,350.2 15.6,348.1Z"/>
<path fill="#fff" d="M53.4,387.5C54.2,385.2 56.6,382.7 57.9,382.9C59.3,383.2 61,385.5 61.7,389C62.5,392.5 63.2,401.1 62.5,404.1C61.7,407.1 58.7,408.4 57.2,407.1C55.7,405.9 54,399.8 53.4,396.5C52.8,393.3 52.6,389.7 53.4,387.5Z"/>
<path fill="#fff" d="M197.9,478.3C198.4,476.3 199.6,474 200.9,472.3C202.1,470.5 203.7,468 205.4,467.7C207.2,467.5 209.2,469.4 211.5,470.7C213.7,472.1 218.5,474 219,476C219.5,478.1 216,480.8 214.5,482.8C213,484.9 212,487.3 210,488.1C207.9,489 204.4,488.8 202.4,488.1C200.4,487.5 198.6,486 197.9,484.4C197.1,482.7 197.4,480.3 197.9,478.3Z"/>
<path fill="#fff" d="M443.7,272.5C446.2,272.9 450.8,270.5 452.7,271.8C454.6,273 454.9,276.9 455,280.1C455.1,283.2 454.6,288.4 453.5,290.7C452.4,292.9 449.8,293.7 448.2,293.7C446.6,293.7 445.4,291.9 443.7,290.7C441.9,289.4 439,288.4 437.6,286.1C436.2,283.9 436.1,280.1 435.3,277C434.6,274 432.7,269.2 433.1,268C433.4,266.7 435.8,268.7 437.6,269.5C439.4,270.2 441.1,272.1 443.7,272.5Z"/>
<path fill="#fff" d="M452,267.2L455,268 454.2,271 452,270.2Z"/>
<path fill="#fff" d="M459.5,295.2C460.8,293.1 468.7,291.7 472.4,292.9C476.1,294.2 478.8,300 481.5,302.8C484.1,305.5 487.8,307.3 488.3,309.6C488.8,311.8 486.3,314.4 484.5,316.4C482.7,318.4 480,321.9 477.7,321.7C475.4,321.4 473,317.5 470.9,314.9C468.7,312.2 466.7,309.1 464.8,305.8C462.9,302.5 458.3,297.3 459.5,295.2Z"/>
<path fill="#fff" d="M498.1,283.9L502.7,284.6 502.7,288.4 498.4,288.4Z"/>
<path fill="#fff" d="M470.9,352.7C472.8,350.3 477.2,344.5 479.2,344.4C481.2,344.2 483.1,349.3 483,351.9C482.9,354.6 480.5,357.6 478.5,360.2C476.4,362.9 473.2,366.4 470.9,367.8C468.6,369.2 465.3,370.1 464.8,368.6C464.3,367.1 466.9,361.4 467.9,358.7C468.9,356.1 469,355.1 470.9,352.7Z"/>
<path fill="#fff" d="M448.2,385.2L454.2,384.4 454.6,388.2 449,389Z"/>
<path fill="#fff" d="M287.9,627.3C287.9,625.4 294,624.2 295.4,622C296.8,619.9 294.8,615.6 296.2,614.4C297.6,613.3 302.3,614.2 303.7,615.2C305.1,616.2 305,618.7 304.5,620.5C304,622.3 301.2,623.8 300.7,625.8C300.2,627.8 302.3,631.3 301.5,632.6C300.6,633.9 297.7,634.2 295.4,633.4C293.1,632.5 287.9,629.2 287.9,627.3Z"/>
</mask>
<mask id="b2" maskUnits="userSpaceOnUse" x="-5" y="-5" width="555.6" height="652">
<path fill="#fff" d="M-10,100C-9.4,54.6 -8.3,100.3 0,100C8.3,99.7 26.7,98 40,98C53.3,98 53.3,99 80,100C106.7,101 163.3,102.8 200,104C236.7,105.2 278.3,106.3 300,107C321.7,107.7 324.4,104.4 330,108C335.6,111.6 332.5,123.7 333.5,128.3C334.4,132.9 334.4,133.6 335.8,135.9C337.1,138.1 339.8,141.7 341.8,141.9C343.8,142.2 345.3,138.9 347.9,137.4C350.4,135.9 353.9,133.9 356.9,132.8C360,131.8 363.5,132.6 366,131.3C368.5,130.1 370.3,127.3 372.1,125.3C373.8,123.3 374.6,120.5 376.6,119.2C378.6,118 381.9,117.5 384.2,117.7C386.4,118 388.7,119 390.2,120.7C391.7,122.5 393.2,125.8 393.2,128.3C393.2,130.8 392,134.1 390.2,135.9C388.5,137.6 385.2,137.9 382.7,138.9C380.1,139.9 376.6,140.4 375.1,141.9C373.6,143.4 373.3,145.4 373.6,148C373.8,150.5 375.3,154 376.6,157C377.9,160.1 379.9,162.6 381.1,166.1C382.4,169.7 383.4,175.2 384.2,178.2C384.9,181.2 384.7,181.5 385.7,184.3C386.7,187 389.2,190.8 390.2,194.9C391.2,198.9 391.2,204.4 391.7,208.5C392.2,212.5 392.2,215.5 393.2,219.1C394.2,222.6 396.3,227.4 397.8,229.7C399.3,231.9 400.8,232.6 402.3,232.7C403.8,232.8 405.8,229.7 406.9,230.4C407.9,231.2 407.9,234.8 408.4,237.2C408.9,239.6 409.4,242.3 409.9,244.8C410.4,247.3 410.6,250.3 411.4,252.3C412.1,254.4 413.4,255.1 414.4,256.9C415.4,258.6 415.4,262.4 417.4,262.9C419.5,263.4 423.7,260.9 426.5,259.9C429.3,258.9 431.7,258.1 434.1,256.9C436.5,255.6 439.4,253.1 440.9,252.3C442.4,251.6 442.5,253.6 443.2,252.3C443.8,251.1 443.9,246.5 444.7,244.8C445.4,243 446.4,242.5 447.7,241.8C449,241 451.7,239.5 452.2,240.2C452.7,241 451.2,244 450.7,246.3C450.2,248.6 448.5,252.1 449.2,253.9C450,255.6 453.2,255.9 455.3,256.9C457.3,257.9 459.8,258.1 461.3,259.9C462.8,261.7 463.3,265.2 464.3,267.5C465.3,269.7 466.4,271.5 467.4,273.5C468.4,275.5 468.9,278.1 470.4,279.6C471.9,281.1 474.4,281.8 476.4,282.6C478.5,283.4 480.7,284.9 482.5,284.1C484.3,283.4 485.3,280.1 487,278.1C488.8,276 490.6,273.3 493.1,272C495.6,270.8 499.4,270.5 502.2,270.5C504.9,270.5 507.7,272.3 509.7,272C511.7,271.8 513,270.2 514.3,269C515.5,267.7 517,266 517.3,264.4C517.5,262.9 515.5,261.2 515.8,259.9C516,258.6 517.3,257.4 518.8,256.9C520.3,256.4 523.3,255.9 524.8,256.9C526.4,257.9 527.6,260.9 527.9,262.9C528.1,265 526.9,267.2 526.4,269C525.9,270.8 523.8,272.5 524.8,273.5C525.9,274.5 529.9,275 532.4,275C534.9,275 537.2,273.8 540,273.5C542.7,273.3 546.8,211.6 549,273.5C551.3,335.5 577.3,583.2 553.5,645.1C529.8,707.1 432.4,647.2 406.7,645.1C381.1,643 402.2,636.1 399.5,632.4C396.8,628.8 393.5,625.8 390.4,623.4C387.4,621 384.4,619.4 381.4,617.9C378.4,616.4 374.1,616.1 372.3,614.3C370.5,612.5 372,610.1 370.5,607.1C369,604 365.4,599.5 363.3,596.2C361.1,592.9 359.9,589.8 357.8,587.1C355.7,584.4 353,581.4 350.6,579.9C348.1,578.4 345.7,579 343.3,578.1C340.9,577.2 337.6,576.3 336.1,574.4C334.6,572.6 333.6,569.3 334.3,567.2C334.9,565.1 337.7,563 339.7,561.8C341.7,560.5 345.7,561.6 346,559.9C346.3,558.3 343.8,553.3 341.5,551.8C339.2,550.3 336.1,551.3 332.4,550.9C328.8,550.4 323.4,549.1 319.8,549.1C316.1,549.1 313.1,551.2 310.7,550.9C308.3,550.6 307.1,549.1 305.3,547.3C303.4,545.4 302.5,541.7 299.8,540C297.1,538.3 292.9,537.6 288.9,537.3C285,537 277.5,539.9 276.3,538.2C275,536.5 280.2,530.9 281.7,527.3C283.2,523.7 285.9,522.4 285.3,516.4C284.7,510.5 278.4,496.2 278.3,491.5C278.1,486.8 280.8,489.5 284.3,488.5C287.9,487.5 294.4,487.7 299.5,485.5C304.5,483.2 309.5,478.6 314.6,474.9C319.6,471.1 326.2,466 329.7,462.8C333.2,459.5 334.3,457.2 335.8,455.2C337.2,453.2 338,453.2 338.5,450.7C339,448.1 339,443.2 338.8,440.1C338.6,436.9 338.8,432 337.3,431.8C335.8,431.5 332.5,436.2 329.7,438.6C326.9,441 322.9,443.6 320.6,446.1C318.4,448.6 318.1,451.5 316.1,453.7C314.1,455.8 311.3,457.8 308.5,459C305.8,460.1 302.7,460.6 299.5,460.5C296.2,460.4 291.8,459 288.9,458.2C286,457.5 283.2,454.4 282.1,456C280.9,457.5 282.7,464.7 282.1,467.3C281.4,469.9 280.4,471.1 278.3,471.8C276.1,472.6 269.8,471.8 269.2,471.8C268.6,471.9 274.4,472.2 274.5,472.3C274.6,472.3 272,471.7 270,472.3C268,472.8 264.7,473.8 262.4,475.3C260.1,476.8 258.6,479.6 256.4,481.3C254.1,483.1 251.3,484.7 248.8,485.9C246.3,487 243.5,487.9 241.2,488.1C239,488.4 237.7,487.4 235.2,487.4C232.7,487.4 228.6,487.1 226.1,488.1C223.6,489.1 222.3,492 220.1,493.4C217.8,494.8 215,496 212.5,496.5C210,497 208,496.8 204.9,496.5C201.9,496.1 197.6,494.2 194.3,494.2C191.1,494.2 188.8,496 185.3,496.5C181.7,497 176.7,497.3 173.2,497.2C169.6,497.1 166.9,495.6 164.1,495.7C161.3,495.8 158,496.8 156.5,498C155,499.1 156,501.6 155,502.5C154,503.4 152.2,504 150.5,503.3C148.7,502.5 146.7,499.4 144.4,498C142.1,496.6 138.4,496.7 136.9,494.9C135.3,493.2 136.9,489.4 135.3,487.4C133.8,485.4 130.3,484.6 127.8,482.8C125.3,481.1 122.7,478.6 120.2,476.8C117.7,475 114.9,474 112.7,472.3C110.4,470.5 107.6,469.2 106.6,466.2C105.6,463.2 107.1,457.4 106.6,454.1C106.1,450.8 105.3,448.8 103.6,446.5C101.8,444.3 98.5,442 96,440.5C93.5,439 91,439 88.4,437.5C85.9,435.9 82.9,434.2 80.9,431.4C78.9,428.6 77.9,423.5 76.3,420.8C74.8,418.2 73.6,415.5 71.8,415.5C70,415.5 67.8,419.9 65.8,420.8C63.7,421.7 62.5,421.6 59.7,420.8C56.9,420.1 52.4,417.8 49.1,416.3C45.8,414.8 42.1,413.8 40,411.7C38,409.7 38.8,406.2 37,404.2C35.3,402.2 32,401.4 29.5,399.6C26.9,397.9 23.9,396.1 21.9,393.6C19.9,391.1 19.4,387 17.4,384.5C15.3,382 12.2,380.5 9.8,378.5C7.4,376.4 5.3,373.4 3,372.4C0.7,371.4 -1.7,417.8 -3.8,372.4C-6,327 -10.6,145.4 -10,100Z"/>
<path fill="#000" d="M3,130.3C5.6,130.3 12.1,129.3 13.6,130.3C15.1,131.3 13.1,134.6 12.1,136.4C11,138.1 8.7,139.1 7.5,140.9C6.4,142.7 5.4,144.9 5.3,147C5.1,149 5.3,151.7 6.8,153C8.3,154.3 12.1,153.3 14.3,154.5C16.6,155.8 19.6,158.8 20.4,160.6C21.1,162.3 20.6,164.2 18.9,165.1C17.1,166 12.1,164.9 9.8,165.9C7.5,166.9 6.4,170 5.3,171.2C4.1,172.3 4.2,172.4 3,172.7C1.7,172.9 -1.4,179.7 -2.3,172.7C-3.2,165.6 -3.2,137.4 -2.3,130.3C-1.4,123.3 0.3,130.3 3,130.3Z"/>
<path fill="#000" d="M66.5,281.3C65.8,280.5 69.4,276.5 70.3,274C71.2,271.5 72.1,269.2 71.8,266.5C71.6,263.7 68.3,260.2 68.8,257.4C69.3,254.6 72.3,251.6 74.8,249.8C77.4,248.1 81.3,246.7 83.9,246.8C86.6,246.9 89.3,248.8 90.7,250.6C92.1,252.3 92.4,254.9 92.2,257.4C92.1,259.9 91.3,263.9 90,265.7C88.6,267.5 85.3,266.7 83.9,268C82.5,269.2 83.2,271.5 81.6,273.3C80.1,275 77.4,277.2 74.8,278.6C72.3,279.9 67.3,282 66.5,281.3Z"/>
<path fill="#000" d="M18.1,278.6C18.6,276.7 20.5,276 21.9,276.3C23.3,276.5 25.3,278.4 26.4,280.1C27.6,281.7 28.6,284.2 28.7,286.1C28.8,288 28.2,290.3 27.2,291.4C26.2,292.6 24,293.6 22.6,292.9C21.3,292.3 19.6,290 18.9,287.6C18.1,285.2 17.6,280.4 18.1,278.6Z"/>
<path fill="#000" d="M37,293.7L46.8,288.4 43.1,292.9 38.8,296.7Z"/>
<path fill="#000" d="M-2.3,320.9C-0.5,319.4 6.1,319.4 8.3,320.2C10.4,320.9 11,323.8 10.5,325.5C10,327.1 7.4,329.4 5.3,330C3.1,330.6 -1.1,330.7 -2.3,329.2C-3.6,327.7 -4.1,322.4 -2.3,320.9Z"/>
<path fill="#000" d="M6,335.3C7.1,332.9 10.3,329.7 12.1,329.2C13.8,328.7 16.1,330.6 16.6,332.3C17.1,333.9 16.1,337.3 15.1,339.1C14.1,340.8 12.2,342.1 10.5,342.8C8.9,343.6 6,344.9 5.3,343.6C4.5,342.3 4.9,337.7 6,335.3Z"/>
<path fill="#000" d="M509.7,291.8C510.5,289.1 513.5,286.5 515.8,284.3C518,282 521.6,278.5 523.3,278.2C525.1,278 526.1,280.2 526.4,282.8C526.6,285.3 524.3,290.6 524.8,293.3C525.3,296.1 527.6,297.6 529.4,299.4C531.1,301.2 533.7,303.7 535.4,303.9C537.2,304.2 538.2,302.2 540,300.9C541.7,299.6 545,293.3 546,296.4C547,299.4 547.3,316 546,319.1C544.8,322.1 540.7,315.8 538.5,314.5C536.2,313.3 534.9,311.7 532.4,311.5C529.9,311.2 526.1,313.5 523.3,313C520.6,312.5 517.8,310.5 515.8,308.5C513.8,306.4 512.2,303.7 511.2,300.9C510.2,298.1 509,294.6 509.7,291.8Z"/>
<path fill="#000" d="M528.6,285C529.4,283.9 532.3,282.9 533.9,283.5C535.6,284.1 538.5,287.3 538.5,288.8C538.5,290.3 535.4,292.3 533.9,292.6C532.4,292.8 530.3,291.6 529.4,290.3C528.5,289.1 527.9,286.2 528.6,285Z"/>
<path fill="#000" d="M452.2,338.7C451.7,336.7 455,332.4 456.8,329.6C458.5,326.9 460.8,323.1 462.8,322.1C464.8,321.1 467.5,322.1 468.9,323.6C470.3,325.1 471.1,328.6 471.1,331.2C471.1,333.7 470,336.5 468.9,338.7C467.7,341 465.9,344.3 464.3,344.8C462.8,345.3 461.8,342.8 459.8,341.7C457.8,340.7 452.7,340.7 452.2,338.7Z"/>
<path fill="#000" d="M435.6,402.3C436.1,401 437.4,402 438.6,403.8C439.9,405.5 441.1,410.3 443.2,412.8C445.2,415.4 448.5,416.6 450.7,418.9C453,421.2 455.1,423.7 456.8,426.5C458.4,429.2 459.4,432.3 460.6,435.5C461.7,438.8 463.1,443.3 463.6,446.1C464.1,448.9 466.2,451.2 463.6,452.2C460.9,453.2 451.9,452.9 447.7,452.2C443.5,451.4 441,449.7 438.6,447.6C436.2,445.6 434.5,442.8 433.3,440.1C432.2,437.3 431.7,434.3 431.8,431C431.9,427.7 433.5,423.7 434.1,420.4C434.7,417.1 435.3,414.4 435.6,411.3C435.8,408.3 435.1,403.5 435.6,402.3Z"/>
<path fill="#000" d="M350.9,537.6C351.9,536.6 355.7,536.3 356.9,536.9C358.2,537.5 359,540.2 358.4,541.4C357.9,542.7 355.2,544.2 353.9,544.4C352.7,544.7 351.4,544.1 350.9,542.9C350.4,541.8 349.9,538.6 350.9,537.6Z"/>
<path fill="#000" d="M301.7,524.8L305.5,526.3 304.7,530.8 301.7,529.3Z"/>
<path fill="#000" d="M416.7,320.6L426.5,320.6 425,334.2 419,334.2Z"/>
<path fill="#000" d="M417.4,347.8C418.7,347.5 424.8,345.8 428,346.3C431.3,346.8 434.6,349.3 437.1,350.8C439.6,352.3 440.9,354.4 443.2,355.4C445.4,356.4 448.2,357.9 450.7,356.9C453.2,355.9 456.3,351.6 458.3,349.3C460.3,347 463.1,344.8 462.8,343.3C462.6,341.7 459.3,340 456.8,340.2C454.3,340.5 450,343 447.7,344.8C445.4,346.5 445.2,350.3 443.2,350.8C441.1,351.3 438.4,348.7 435.6,347.8C432.8,346.9 429,345.5 426.5,345.5C424,345.5 422,347.4 420.5,347.8C419,348.2 416.2,348 417.4,347.8Z"/>
<path fill="#000" d="M411.4,364.4C414.4,362.4 427.8,358.1 432.6,358.4C437.4,358.6 437.4,364.4 440.1,365.9C442.9,367.5 448,365.9 449.2,367.5C450.5,369 450,372.8 447.7,375C445.4,377.3 439.1,380.3 435.6,381.1C432.1,381.8 428.5,380.8 426.5,379.6C424.5,378.3 425.5,375 423.5,373.5C421.5,372 416.4,372 414.4,370.5C412.4,369 408.4,366.5 411.4,364.4Z"/>
<path fill="#fff" d="M509.7,81.4C510.7,79.1 514.3,76.4 517.3,75.4C520.3,74.4 524.8,74.9 527.9,75.4C530.9,75.9 532.4,76.9 535.4,78.4C538.5,79.9 544.3,80.2 546,84.4C547.8,88.7 547,99.8 546,104.1C545,108.4 541.7,108.1 540,110.2C538.2,112.2 537.7,114.8 535.4,116.2C533.2,117.6 529.1,118.7 526.4,118.5C523.6,118.2 520.8,116.8 518.8,114.7C516.8,112.5 515,108.9 514.3,105.6C513.5,102.3 514.8,97.8 514.3,95C513.8,92.3 512,91.2 511.2,89C510.5,86.7 508.7,83.7 509.7,81.4Z"/>
<path fill="#fff" d="M462.8,235.7C461.6,234.9 461.1,230.4 461.3,228.1C461.6,225.9 462.8,223.9 464.3,222.1C465.9,220.3 468.1,218.6 470.4,217.6C472.7,216.5 475.9,217 478,216C480,215 481,213 482.5,211.5C484,210 486.5,208.5 487,207C487.5,205.5 484.8,203.9 485.5,202.4C486.3,200.9 489.3,199.4 491.6,197.9C493.8,196.4 496.6,194.9 499.1,193.4C501.7,191.8 504.2,189.7 506.7,188.8C509.2,187.9 512,187.6 514.3,188.1C516.5,188.6 519.6,190.2 520.3,191.8C521.1,193.5 520.3,196.6 518.8,197.9C517.3,199.1 514,198.4 511.2,199.4C508.5,200.4 504.7,202.4 502.2,203.9C499.6,205.5 497.9,206.7 496.1,208.5C494.3,210.2 493.3,212.8 491.6,214.5C489.8,216.3 487.3,217.6 485.5,219.1C483.8,220.6 482.5,222.1 481,223.6C479.5,225.1 478.5,226.6 476.4,228.1C474.4,229.7 471.1,231.4 468.9,232.7C466.6,233.9 464.1,236.5 462.8,235.7Z"/>
<path fill="#fff" d="M528.6,232.7C529.4,230.9 532.5,228.1 535.4,226.6C538.3,225.1 544.3,221.1 546,223.6C547.8,226.1 547.5,239 546,241.8C544.5,244.5 539.5,241 536.9,240.2C534.4,239.5 532.3,238.5 530.9,237.2C529.5,236 527.9,234.4 528.6,232.7Z"/>
<path fill="#fff" d="M193.6,522.2C194.5,521.3 197,520.5 198.9,520.7C200.8,520.8 204.4,521.9 204.9,522.9C205.4,523.9 203.4,525.7 201.9,526.7C200.4,527.7 197.2,529.1 195.9,529C194.5,528.9 194,527.1 193.6,526C193.2,524.8 192.7,523.1 193.6,522.2Z"/>
<path fill="#fff" d="M244.5,603.4C244.2,600.1 247.1,593.8 249.1,590.8C251,587.7 253.9,585.8 256.3,585.3C258.7,584.9 262.1,586.5 263.6,588C265.1,589.5 263.9,593 265.4,594.4C266.9,595.7 269.3,595.9 272.6,596.2C276,596.5 281.4,595.6 285.3,596.2C289.2,596.8 292.6,597.7 296.2,599.8C299.8,601.9 304,605.9 307.1,608.9C310.1,611.9 312.5,614 314.3,617.9C316.1,621.9 316.1,627.9 317.9,632.4C319.8,637 331.2,643 325.2,645.1C319.2,647.2 289.5,646.6 281.7,645.1C273.8,643.6 279.1,638.8 278.1,636.1C277,633.3 276.6,631.5 275.4,628.8C274.1,626.1 273.1,621.9 270.8,619.7C268.6,617.6 265.1,617.6 261.8,616.1C258.4,614.6 253.8,612.8 250.9,610.7C248,608.6 244.8,606.8 244.5,603.4Z"/>
</mask>
<mask id="g500" maskUnits="userSpaceOnUse" x="-5" y="-5" width="555.6" height="652"><use href="#G" fill="#fff"/><use href="#Ms" stroke="#000" stroke-width="36"/><use href="#Mv" stroke="#000" stroke-width="36"/><use href="#pg500" stroke="#000" stroke-width="36"/></mask>
<mask id="g1000" maskUnits="userSpaceOnUse" x="-5" y="-5" width="555.6" height="652"><use href="#G" fill="#fff"/><use href="#Ms" stroke="#000" stroke-width="72"/><use href="#Mv" stroke="#000" stroke-width="72"/><use href="#pg1000" stroke="#000" stroke-width="72"/></mask>
<mask id="g2000" maskUnits="userSpaceOnUse" x="-5" y="-5" width="555.6" height="652"><use href="#G" fill="#fff"/><use href="#Ms" stroke="#000" stroke-width="144"/><use href="#Mv" stroke="#000" stroke-width="144"/><use href="#pg2000" stroke="#000" stroke-width="144"/></mask>
</defs>
<rect width="2067" height="2185" fill="#fff"/>
<g transform="translate(179.6,123.3)" clip-path="url(#cp)">
<rect x="0" y="0" width="545.6" height="642" fill="#93a0ff" mask="url(#b0)"/>
<g mask="url(#g500)"><use href="#G" fill="rgb(75,75,75)" fill-opacity="0.3"/></g>
<g clip-path="url(#cin)" opacity="0.55" stroke="#008000" stroke-width="36"><use href="#Ms"/><use href="#Mv"/><use href="#pg500"/></g>
<g clip-path="url(#cout)" opacity="0.5" stroke="#a52a2a" stroke-width="36"><use href="#Ms"/><use href="#Mv"/><use href="#pr500"/></g>
<use href="#Md"/><use href="#Ml"/>
<rect x="6.7" y="6.6" width="324.4" height="119" rx="4.5" ry="4.5" fill="#fff" fill-opacity="0.96" stroke="#d7d9d9" stroke-width="5.2"/>
<text transform="translate(24.8,54.1) scale(1,1.06)" font-size="44.4">sensitivity=0.04</text><text transform="translate(24.8,99.8) scale(1,1.06)" font-size="44.4">specificity=0.85</text>
</g>
<g transform="translate(725.3,123.3)" clip-path="url(#cp)">
<rect x="0" y="0" width="545.6" height="642" fill="#93a0ff" mask="url(#b1)"/>
<g mask="url(#g500)"><use href="#G" fill="rgb(75,75,75)" fill-opacity="0.3"/></g>
<g clip-path="url(#cin)" opacity="0.55" stroke="#008000" stroke-width="36"><use href="#Ms"/><use href="#Mv"/><use href="#pg500"/></g>
<g clip-path="url(#cout)" opacity="0.5" stroke="#a52a2a" stroke-width="36"><use href="#Ms"/><use href="#Mv"/><use href="#pr500"/></g>
<use href="#Md"/><use href="#Ml"/>
<rect x="6.7" y="6.6" width="324.4" height="119" rx="4.5" ry="4.5" fill="#fff" fill-opacity="0.96" stroke="#d7d9d9" stroke-width="5.2"/>
<text transform="translate(24.8,54.1) scale(1,1.06)" font-size="44.4">sensitivity=0.34</text><text transform="translate(24.8,99.8) scale(1,1.06)" font-size="44.4">specificity=0.56</text>
</g>
<g transform="translate(1270.8,123.3)" clip-path="url(#cp)">
<rect x="0" y="0" width="545.6" height="642" fill="#93a0ff" mask="url(#b2)"/>
<g mask="url(#g500)"><use href="#G" fill="rgb(75,75,75)" fill-opacity="0.3"/></g>
<g clip-path="url(#cin)" opacity="0.55" stroke="#008000" stroke-width="36"><use href="#Ms"/><use href="#Mv"/><use href="#pg500"/></g>
<g clip-path="url(#cout)" opacity="0.5" stroke="#a52a2a" stroke-width="36"><use href="#Ms"/><use href="#Mv"/><use href="#pr500"/></g>
<use href="#Md"/><use href="#Ml"/>
<rect x="6.7" y="6.6" width="324.4" height="119" rx="4.5" ry="4.5" fill="#fff" fill-opacity="0.96" stroke="#d7d9d9" stroke-width="5.2"/>
<text transform="translate(24.8,54.1) scale(1,1.06)" font-size="44.4">sensitivity=0.61</text><text transform="translate(24.8,99.8) scale(1,1.06)" font-size="44.4">specificity=0.28</text>
</g>
<g transform="translate(179.6,765.4)" clip-path="url(#cp)">
<rect x="0" y="0" width="545.6" height="642" fill="#93a0ff" mask="url(#b0)"/>
<g mask="url(#g1000)"><use href="#G" fill="rgb(75,75,75)" fill-opacity="0.3"/></g>
<g clip-path="url(#cin)" opacity="0.55" stroke="#008000" stroke-width="72"><use href="#Ms"/><use href="#Mv"/><use href="#pg1000"/></g>
<g clip-path="url(#cout)" opacity="0.5" stroke="#a52a2a" stroke-width="72"><use href="#Ms"/><use href="#Mv"/><use href="#pr1000"/></g>
<use href="#Md"/><use href="#Ml"/>
<rect x="6.7" y="6.6" width="324.4" height="119" rx="4.5" ry="4.5" fill="#fff" fill-opacity="0.96" stroke="#d7d9d9" stroke-width="5.2"/>
<text transform="translate(24.8,54.1) scale(1,1.06)" font-size="44.4">sensitivity=0.12</text><text transform="translate(24.8,99.8) scale(1,1.06)" font-size="44.4">specificity=0.81</text>
</g>
<g transform="translate(725.3,765.4)" clip-path="url(#cp)">
<rect x="0" y="0" width="545.6" height="642" fill="#93a0ff" mask="url(#b1)"/>
<g mask="url(#g1000)"><use href="#G" fill="rgb(75,75,75)" fill-opacity="0.3"/></g>
<g clip-path="url(#cin)" opacity="0.55" stroke="#008000" stroke-width="72"><use href="#Ms"/><use href="#Mv"/><use href="#pg1000"/></g>
<g clip-path="url(#cout)" opacity="0.5" stroke="#a52a2a" stroke-width="72"><use href="#Ms"/><use href="#Mv"/><use href="#pr1000"/></g>
<use href="#Md"/><use href="#Ml"/>
<rect x="6.7" y="6.6" width="324.4" height="119" rx="4.5" ry="4.5" fill="#fff" fill-opacity="0.96" stroke="#d7d9d9" stroke-width="5.2"/>
<text transform="translate(24.8,54.1) scale(1,1.06)" font-size="44.4">sensitivity=0.45</text><text transform="translate(24.8,99.8) scale(1,1.06)" font-size="44.4">specificity=0.57</text>
</g>
<g transform="translate(1270.8,765.4)" clip-path="url(#cp)">
<rect x="0" y="0" width="545.6" height="642" fill="#93a0ff" mask="url(#b2)"/>
<g mask="url(#g1000)"><use href="#G" fill="rgb(75,75,75)" fill-opacity="0.3"/></g>
<g clip-path="url(#cin)" opacity="0.55" stroke="#008000" stroke-width="72"><use href="#Ms"/><use href="#Mv"/><use href="#pg1000"/></g>
<g clip-path="url(#cout)" opacity="0.5" stroke="#a52a2a" stroke-width="72"><use href="#Ms"/><use href="#Mv"/><use href="#pr1000"/></g>
<use href="#Md"/><use href="#Ml"/>
<rect x="6.7" y="6.6" width="324.4" height="119" rx="4.5" ry="4.5" fill="#fff" fill-opacity="0.96" stroke="#d7d9d9" stroke-width="5.2"/>
<text transform="translate(24.8,54.1) scale(1,1.06)" font-size="44.4">sensitivity=0.73</text><text transform="translate(24.8,99.8) scale(1,1.06)" font-size="44.4">specificity=0.29</text>
</g>
<g transform="translate(179.6,1407.3)" clip-path="url(#cp)">
<rect x="0" y="0" width="545.6" height="642" fill="#93a0ff" mask="url(#b0)"/>
<g mask="url(#g2000)"><use href="#G" fill="rgb(75,75,75)" fill-opacity="0.3"/></g>
<g clip-path="url(#cin)" opacity="0.55" stroke="#008000" stroke-width="144"><use href="#Ms"/><use href="#Mv"/><use href="#pg2000"/></g>
<g clip-path="url(#cout)" opacity="0.5" stroke="#a52a2a" stroke-width="144"><use href="#Ms"/><use href="#Mv"/><use href="#pr2000"/></g>
<use href="#Md"/><use href="#Ml"/>
<rect x="6.7" y="6.6" width="324.4" height="119" rx="4.5" ry="4.5" fill="#fff" fill-opacity="0.96" stroke="#d7d9d9" stroke-width="5.2"/>
<text transform="translate(24.8,54.1) scale(1,1.06)" font-size="44.4">sensitivity=0.39</text><text transform="translate(24.8,99.8) scale(1,1.06)" font-size="44.4">specificity=0.81</text>
</g>
<g transform="translate(725.3,1407.3)" clip-path="url(#cp)">
<rect x="0" y="0" width="545.6" height="642" fill="#93a0ff" mask="url(#b1)"/>
<g mask="url(#g2000)"><use href="#G" fill="rgb(75,75,75)" fill-opacity="0.3"/></g>
<g clip-path="url(#cin)" opacity="0.55" stroke="#008000" stroke-width="144"><use href="#Ms"/><use href="#Mv"/><use href="#pg2000"/></g>
<g clip-path="url(#cout)" opacity="0.5" stroke="#a52a2a" stroke-width="144"><use href="#Ms"/><use href="#Mv"/><use href="#pr2000"/></g>
<use href="#Md"/><use href="#Ml"/>
<rect x="6.7" y="6.6" width="324.4" height="119" rx="4.5" ry="4.5" fill="#fff" fill-opacity="0.96" stroke="#d7d9d9" stroke-width="5.2"/>
<text transform="translate(24.8,54.1) scale(1,1.06)" font-size="44.4">sensitivity=0.70</text><text transform="translate(24.8,99.8) scale(1,1.06)" font-size="44.4">specificity=0.58</text>
</g>
<g transform="translate(1270.8,1407.3)" clip-path="url(#cp)">
<rect x="0" y="0" width="545.6" height="642" fill="#93a0ff" mask="url(#b2)"/>
<g mask="url(#g2000)"><use href="#G" fill="rgb(75,75,75)" fill-opacity="0.3"/></g>
<g clip-path="url(#cin)" opacity="0.55" stroke="#008000" stroke-width="144"><use href="#Ms"/><use href="#Mv"/><use href="#pg2000"/></g>
<g clip-path="url(#cout)" opacity="0.5" stroke="#a52a2a" stroke-width="144"><use href="#Ms"/><use href="#Mv"/><use href="#pr2000"/></g>
<use href="#Md"/><use href="#Ml"/>
<rect x="6.7" y="6.6" width="324.4" height="119" rx="4.5" ry="4.5" fill="#fff" fill-opacity="0.96" stroke="#d7d9d9" stroke-width="5.2"/>
<text transform="translate(24.8,54.1) scale(1,1.06)" font-size="44.4">sensitivity=0.86</text><text transform="translate(24.8,99.8) scale(1,1.06)" font-size="44.4">specificity=0.33</text>
</g>
<g stroke="#000" stroke-width="4.5" fill="none">
<rect x="179.6" y="123.3" width="1636.9" height="1926.2"/>
<path d="M725.3,123.3V2049.5"/>
<path d="M1270.8,123.3V2049.5"/>
<path d="M179.6,765.4H1816.5"/>
<path d="M179.6,1407.3H1816.5"/>
</g>
<rect x="20.2" y="21" width="2025.5" height="75.2" rx="8" ry="8" fill="#fff" stroke="#d4d4d4" stroke-width="6"/>
<rect x="34.6" y="36" width="93.7" height="36" fill="#8593fc"/>
<text transform="translate(162,71.2) scale(1,1.06)" font-size="44.2">Simulated glacier</text>
<rect x="555.7" y="36" width="93.7" height="36" fill="#c8c8c8"/>
<text transform="translate(682.5,71.2) scale(1,1.06)" font-size="44.2">Expected glacier extent</text>
<rect x="1180" y="36" width="93.7" height="36" fill="#80c480"/>
<text transform="translate(1307,71.2) scale(1,1.06)" font-size="44.2">Required area</text>
<rect x="1637" y="36" width="93.7" height="36" fill="#d48a8c"/>
<text transform="translate(1763.7,71.2) scale(1,1.06)" font-size="44.2">Forbidden area</text>
<text x="453.9" y="2110" font-size="57.5" text-anchor="middle" textLength="107" lengthAdjust="spacingAndGlyphs">1300</text>
<text x="999.5" y="2110" font-size="57.5" text-anchor="middle" textLength="107" lengthAdjust="spacingAndGlyphs">1200</text>
<text x="1545.2" y="2110" font-size="57.5" text-anchor="middle" textLength="107" lengthAdjust="spacingAndGlyphs">1100</text>
<text transform="translate(147.3,443.3) rotate(-90)" font-size="57.5" text-anchor="middle" textLength="81" lengthAdjust="spacingAndGlyphs">500</text>
<text transform="translate(147.3,1085.3) rotate(-90)" font-size="57.5" text-anchor="middle" textLength="107" lengthAdjust="spacingAndGlyphs">1000</text>
<text transform="translate(147.3,1727.4) rotate(-90)" font-size="57.5" text-anchor="middle" textLength="107" lengthAdjust="spacingAndGlyphs">2000</text>
 <text x="1029.5" y="2158.5" font-size="51" text-anchor="middle"><tspan font-style="italic">h</tspan> [m]</text>
<text transform="translate(75.4,1048.6) rotate(-90)" font-size="52" text-anchor="middle"><tspan font-style="italic">w</tspan> [m]</text>
</svg></body></html>
